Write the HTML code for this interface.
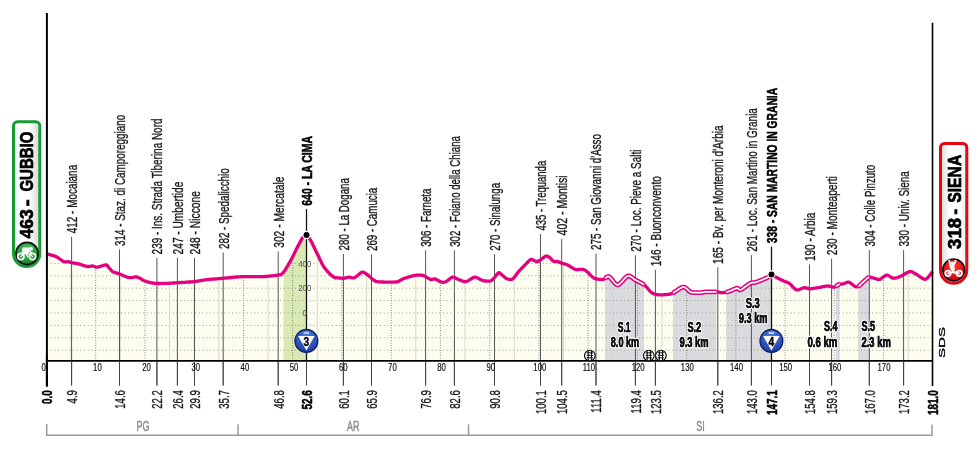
<!DOCTYPE html>
<html><head><meta charset="utf-8"><title>Stage profile Gubbio - Siena</title>
<style>
html,body{margin:0;padding:0;background:#fff;width:980px;height:451px;overflow:hidden}
svg{display:block}
text{font-family:'Liberation Sans', 'DejaVu Sans', sans-serif}
</style></head><body>
<svg width="980" height="451" viewBox="0 0 980 451">
<defs>
<clipPath id="area"><path d="M47.0,253.9 L47.3,254.0 L47.7,254.1 L48.2,254.2 L48.8,254.4 L49.4,254.5 L50.0,254.7 L50.7,254.9 L51.4,255.1 L52.2,255.3 L52.9,255.5 L53.6,255.7 L54.3,255.9 L54.9,256.2 L55.5,256.4 L56.0,256.6 L56.6,256.9 L57.2,257.2 L57.8,257.6 L58.5,258.1 L59.1,258.5 L59.8,259.0 L60.5,259.5 L61.1,259.9 L61.7,260.4 L62.3,260.8 L62.9,261.1 L63.4,261.4 L63.8,261.6 L64.4,261.8 L65.1,261.9 L65.7,261.9 L66.3,261.8 L66.9,261.7 L67.4,261.6 L67.9,261.6 L68.3,261.6 L68.8,261.7 L69.3,261.9 L69.8,262.1 L70.4,262.3 L70.9,262.5 L71.6,262.7 L72.0,262.8 L72.4,262.9 L72.9,262.9 L73.5,263.0 L74.1,263.1 L74.7,263.2 L75.3,263.3 L75.9,263.4 L76.5,263.5 L77.1,263.6 L77.7,263.7 L78.3,263.8 L78.8,263.9 L79.3,264.1 L79.9,264.2 L80.5,264.4 L81.1,264.6 L81.8,264.9 L82.4,265.1 L83.1,265.3 L83.8,265.5 L84.4,265.7 L85.0,265.9 L85.6,266.1 L86.2,266.2 L86.7,266.3 L87.1,266.4 L87.7,266.5 L88.3,266.5 L88.9,266.4 L89.5,266.4 L90.1,266.3 L90.7,266.2 L91.3,266.1 L91.8,266.0 L92.3,266.0 L92.7,266.0 L93.2,266.1 L93.7,266.3 L94.3,266.5 L94.8,266.7 L95.3,266.9 L95.9,267.1 L96.5,267.2 L97.1,267.2 L97.5,267.1 L98.0,267.0 L98.6,266.9 L99.2,266.7 L99.8,266.6 L100.4,266.4 L101.1,266.1 L101.8,265.9 L102.4,265.7 L103.0,265.5 L103.6,265.3 L104.1,265.2 L104.5,265.1 L104.9,265.0 L105.7,264.8 L106.1,264.8 L106.5,265.0 L107.1,265.5 L107.5,265.9 L107.9,266.4 L108.4,267.0 L109.0,267.7 L109.6,268.5 L110.2,269.2 L110.9,269.9 L111.5,270.6 L112.1,271.2 L112.6,271.6 L113.1,271.9 L113.6,272.1 L114.1,272.3 L114.7,272.5 L115.2,272.7 L115.8,272.8 L116.4,273.0 L117.0,273.1 L117.6,273.3 L118.2,273.4 L118.8,273.6 L119.3,273.8 L119.8,274.0 L120.4,274.2 L121.0,274.5 L121.6,274.8 L122.3,275.1 L122.9,275.4 L123.6,275.7 L124.3,276.0 L124.9,276.3 L125.5,276.5 L126.1,276.8 L126.6,276.9 L127.0,277.1 L127.6,277.3 L128.3,277.4 L128.9,277.5 L129.4,277.6 L130.0,277.7 L130.5,277.7 L131.0,277.7 L131.5,277.7 L132.0,277.6 L132.6,277.5 L133.1,277.4 L133.7,277.2 L134.3,277.0 L134.9,276.9 L135.4,276.8 L135.9,276.8 L136.4,276.9 L137.0,277.0 L137.6,277.2 L138.2,277.5 L138.8,277.8 L139.4,278.0 L140.0,278.3 L140.4,278.5 L140.9,278.8 L141.4,279.1 L141.8,279.4 L142.4,279.8 L142.9,280.1 L143.5,280.4 L144.1,280.7 L144.8,281.0 L145.2,281.1 L145.7,281.3 L146.2,281.4 L146.7,281.6 L147.3,281.8 L147.9,282.0 L148.5,282.1 L149.1,282.3 L149.8,282.5 L150.5,282.6 L151.1,282.8 L151.8,282.9 L152.5,283.0 L153.1,283.1 L153.8,283.2 L154.4,283.3 L154.8,283.3 L155.3,283.4 L155.8,283.4 L156.4,283.4 L156.9,283.4 L157.5,283.5 L158.1,283.5 L158.8,283.5 L159.4,283.5 L160.1,283.5 L160.7,283.5 L161.4,283.4 L162.0,283.4 L162.7,283.4 L163.3,283.4 L163.9,283.4 L164.5,283.4 L165.1,283.4 L165.7,283.4 L166.2,283.3 L166.8,283.3 L167.3,283.3 L167.7,283.3 L168.3,283.3 L168.9,283.3 L169.4,283.2 L170.0,283.2 L170.5,283.2 L171.1,283.1 L171.7,283.1 L172.2,283.1 L172.8,283.0 L173.4,283.0 L174.0,283.0 L174.6,282.9 L175.2,282.9 L175.8,282.8 L176.4,282.8 L177.0,282.7 L177.7,282.7 L178.1,282.7 L178.6,282.6 L179.1,282.6 L179.6,282.6 L180.1,282.6 L180.7,282.5 L181.3,282.5 L181.9,282.5 L182.6,282.4 L183.2,282.4 L183.9,282.3 L184.5,282.3 L185.2,282.3 L185.9,282.2 L186.6,282.2 L187.2,282.1 L187.9,282.1 L188.6,282.0 L189.2,282.0 L189.9,282.0 L190.5,281.9 L191.1,281.9 L191.7,281.8 L192.3,281.8 L192.8,281.7 L193.4,281.7 L193.8,281.6 L194.3,281.6 L194.9,281.5 L195.5,281.5 L196.0,281.4 L196.6,281.3 L197.2,281.2 L197.8,281.1 L198.4,281.0 L198.9,280.9 L199.5,280.8 L200.1,280.7 L200.7,280.6 L201.3,280.5 L201.9,280.4 L202.4,280.3 L203.0,280.2 L203.6,280.1 L204.2,280.0 L204.8,279.9 L205.3,279.8 L205.9,279.8 L206.5,279.7 L207.0,279.6 L207.4,279.6 L208.0,279.5 L208.5,279.5 L209.1,279.4 L209.6,279.4 L210.2,279.3 L210.9,279.3 L211.5,279.2 L212.2,279.2 L212.8,279.1 L213.5,279.1 L214.1,279.0 L214.8,279.0 L215.5,278.9 L216.2,278.9 L216.8,278.8 L217.5,278.8 L218.1,278.7 L218.8,278.7 L219.4,278.6 L220.0,278.6 L220.6,278.5 L221.1,278.5 L221.7,278.4 L222.2,278.4 L222.7,278.3 L223.1,278.3 L223.7,278.2 L224.3,278.2 L224.9,278.1 L225.6,278.1 L226.2,278.0 L226.8,277.9 L227.5,277.9 L228.1,277.8 L228.7,277.7 L229.3,277.7 L230.0,277.6 L230.6,277.5 L231.2,277.5 L231.8,277.4 L232.3,277.3 L232.9,277.3 L233.5,277.2 L234.0,277.2 L234.5,277.1 L235.0,277.1 L235.5,277.1 L236.0,277.0 L236.6,277.0 L237.1,277.0 L237.7,276.9 L238.2,276.9 L238.8,276.9 L239.4,276.8 L240.0,276.8 L240.5,276.8 L241.1,276.7 L241.7,276.7 L242.3,276.7 L242.9,276.7 L243.5,276.7 L244.2,276.6 L244.8,276.6 L245.4,276.6 L246.0,276.6 L246.4,276.6 L246.9,276.6 L247.4,276.6 L247.9,276.6 L248.5,276.6 L249.1,276.6 L249.6,276.6 L250.3,276.6 L250.9,276.6 L251.5,276.6 L252.2,276.6 L252.8,276.6 L253.5,276.6 L254.2,276.6 L254.8,276.7 L255.5,276.7 L256.2,276.7 L256.8,276.7 L257.5,276.7 L258.1,276.7 L258.8,276.7 L259.4,276.7 L260.0,276.7 L260.6,276.7 L261.2,276.6 L261.7,276.6 L262.2,276.6 L262.7,276.6 L263.2,276.6 L263.8,276.5 L264.4,276.5 L265.0,276.5 L265.6,276.4 L266.3,276.4 L266.9,276.3 L267.5,276.3 L268.2,276.2 L268.9,276.2 L269.5,276.1 L270.2,276.0 L270.8,276.0 L271.4,275.9 L272.1,275.8 L272.7,275.8 L273.3,275.7 L273.9,275.6 L274.4,275.6 L274.9,275.5 L275.4,275.4 L275.9,275.4 L276.3,275.3 L276.7,275.3 L277.1,275.2 L277.9,275.1 L278.6,275.0 L279.2,274.9 L279.8,274.9 L280.3,274.8 L280.7,274.6 L281.2,274.4 L281.7,274.1 L282.2,273.7 L282.7,273.2 L283.2,272.7 L283.7,272.0 L284.3,271.2 L284.9,270.3 L285.5,269.3 L286.2,268.2 L286.8,267.2 L287.5,266.1 L288.1,265.0 L288.8,263.9 L289.3,262.9 L289.9,261.9 L290.4,261.0 L290.9,260.0 L291.5,259.0 L292.1,257.9 L292.7,256.7 L293.3,255.5 L293.9,254.2 L294.5,253.0 L295.0,251.8 L295.6,250.7 L296.1,249.6 L296.6,248.6 L297.1,247.7 L297.6,246.7 L298.2,245.6 L298.8,244.5 L299.4,243.3 L300.0,242.2 L300.6,241.1 L301.2,240.1 L301.7,239.2 L302.2,238.4 L302.6,237.8 L303.2,237.1 L303.9,236.5 L304.5,236.1 L305.2,235.7 L305.7,235.4 L306.2,235.2 L306.5,235.0 L306.8,235.4 L307.3,235.8 L307.8,236.4 L308.4,237.2 L309.1,238.0 L309.7,238.9 L310.4,240.0 L310.8,240.7 L311.3,241.6 L311.8,242.6 L312.4,243.8 L312.9,245.0 L313.6,246.2 L314.2,247.5 L314.8,248.8 L315.4,250.0 L316.0,251.2 L316.5,252.3 L317.0,253.3 L317.5,254.3 L318.0,255.4 L318.6,256.5 L319.2,257.8 L319.7,259.0 L320.3,260.2 L321.0,261.5 L321.5,262.7 L322.1,263.8 L322.7,264.8 L323.2,265.8 L323.7,266.6 L324.2,267.3 L324.7,268.1 L325.3,268.8 L325.9,269.6 L326.5,270.3 L327.1,271.0 L327.7,271.6 L328.3,272.3 L328.9,272.9 L329.4,273.4 L329.9,273.9 L330.3,274.3 L330.9,274.9 L331.5,275.4 L332.2,275.9 L332.8,276.4 L333.4,276.8 L333.9,277.2 L334.4,277.5 L334.8,277.7 L335.3,277.9 L335.6,277.8 L336.0,277.7 L336.7,277.7 L337.1,277.7 L337.5,277.8 L338.0,277.8 L338.6,277.9 L339.2,278.0 L339.8,278.1 L340.5,278.1 L341.1,278.2 L341.7,278.2 L342.3,278.3 L342.8,278.3 L343.3,278.3 L343.8,278.3 L344.4,278.2 L344.9,278.0 L345.5,277.9 L346.1,277.8 L346.7,277.6 L347.2,277.5 L347.8,277.3 L348.3,277.2 L348.8,277.2 L349.3,277.2 L349.8,277.3 L350.3,277.4 L350.9,277.5 L351.5,277.7 L352.1,277.8 L352.7,277.9 L353.2,277.9 L353.8,277.9 L354.4,277.7 L354.8,277.5 L355.3,277.2 L355.9,276.8 L356.4,276.4 L357.1,275.9 L357.7,275.4 L358.3,274.8 L358.9,274.3 L359.6,273.8 L360.2,273.3 L360.7,272.9 L361.3,272.6 L361.8,272.3 L362.2,272.2 L362.8,272.2 L363.3,272.2 L363.9,272.4 L364.5,272.7 L365.0,273.0 L365.6,273.4 L366.1,273.8 L366.7,274.2 L367.2,274.6 L367.7,275.0 L368.2,275.3 L368.7,275.7 L369.2,276.2 L369.8,276.7 L370.4,277.3 L371.0,277.8 L371.6,278.4 L372.2,278.9 L372.8,279.4 L373.3,279.8 L373.8,280.2 L374.3,280.5 L374.8,280.8 L375.2,281.0 L375.7,281.2 L376.1,281.4 L376.6,281.5 L377.1,281.6 L377.6,281.7 L378.3,281.8 L379.0,281.8 L379.9,281.9 L380.3,281.9 L380.7,281.9 L381.1,282.0 L381.6,282.0 L382.2,282.0 L382.8,282.0 L383.4,282.0 L384.0,282.1 L384.6,282.1 L385.3,282.1 L386.0,282.1 L386.7,282.1 L387.4,282.1 L388.1,282.1 L388.9,282.1 L389.6,282.1 L390.3,282.1 L391.0,282.1 L391.7,282.1 L392.3,282.1 L393.0,282.1 L393.6,282.1 L394.2,282.1 L394.7,282.0 L395.2,282.0 L395.7,282.0 L396.1,281.9 L396.5,281.9 L397.3,281.8 L398.0,281.6 L398.6,281.4 L399.1,281.1 L399.7,280.8 L400.1,280.5 L400.6,280.2 L401.1,279.9 L401.6,279.6 L402.1,279.3 L402.6,279.0 L403.2,278.8 L403.6,278.6 L404.1,278.5 L404.6,278.3 L405.2,278.1 L405.8,277.9 L406.4,277.7 L407.0,277.5 L407.6,277.3 L408.3,277.1 L409.0,276.9 L409.6,276.7 L410.3,276.5 L410.9,276.3 L411.6,276.1 L412.2,276.0 L412.8,275.8 L413.3,275.7 L413.8,275.6 L414.3,275.5 L414.9,275.4 L415.5,275.3 L416.1,275.3 L416.7,275.2 L417.3,275.2 L418.0,275.1 L418.6,275.1 L419.2,275.1 L419.8,275.1 L420.4,275.2 L421.0,275.2 L421.6,275.2 L422.1,275.3 L422.6,275.4 L423.1,275.5 L423.6,275.7 L424.2,275.9 L424.8,276.2 L425.5,276.5 L426.1,276.9 L426.7,277.3 L427.3,277.7 L427.9,278.0 L428.5,278.4 L429.1,278.7 L429.6,279.0 L430.1,279.2 L430.5,279.4 L431.1,279.5 L431.7,279.5 L432.3,279.4 L432.8,279.2 L433.3,279.1 L433.9,279.0 L434.4,278.9 L435.0,279.0 L435.4,279.1 L435.9,279.3 L436.5,279.6 L437.1,279.9 L437.7,280.2 L438.3,280.6 L438.9,280.9 L439.5,281.2 L440.1,281.5 L440.7,281.8 L441.2,282.0 L441.6,282.1 L442.2,282.2 L442.7,282.3 L443.3,282.3 L443.8,282.3 L444.3,282.2 L444.9,282.0 L445.4,281.8 L446.0,281.6 L446.4,281.4 L446.9,281.0 L447.5,280.6 L448.0,280.2 L448.7,279.7 L449.3,279.2 L449.9,278.7 L450.5,278.2 L451.1,277.8 L451.7,277.5 L452.2,277.2 L452.7,277.1 L453.2,277.1 L453.8,277.2 L454.3,277.3 L454.9,277.6 L455.4,277.9 L456.0,278.2 L456.6,278.6 L457.2,278.9 L457.7,279.2 L458.3,279.4 L458.8,279.6 L459.3,279.8 L459.8,280.0 L460.4,280.2 L461.0,280.5 L461.7,280.7 L462.3,281.0 L462.9,281.2 L463.6,281.4 L464.2,281.5 L464.8,281.6 L465.4,281.6 L466.0,281.6 L466.5,281.5 L467.0,281.3 L467.6,281.0 L468.2,280.7 L468.8,280.3 L469.5,279.9 L470.1,279.5 L470.8,279.1 L471.4,278.7 L472.1,278.3 L472.7,277.9 L473.3,277.6 L473.9,277.4 L474.4,277.2 L474.9,277.1 L475.5,277.1 L476.0,277.2 L476.6,277.4 L477.2,277.7 L477.9,278.0 L478.5,278.4 L479.1,278.7 L479.7,279.1 L480.4,279.5 L480.9,279.8 L481.5,280.1 L482.1,280.3 L482.6,280.5 L483.1,280.6 L483.7,280.7 L484.3,280.9 L485.0,281.0 L485.7,281.0 L486.3,281.1 L487.0,281.2 L487.7,281.2 L488.3,281.2 L488.9,281.2 L489.5,281.2 L490.0,281.1 L490.4,281.0 L491.0,280.7 L491.7,280.4 L492.2,279.9 L492.8,279.3 L493.3,278.7 L493.9,278.1 L494.3,277.6 L494.8,277.1 L495.3,276.5 L495.9,275.8 L496.5,274.9 L497.1,274.2 L497.6,273.5 L498.2,273.0 L498.7,272.7 L499.2,272.7 L499.8,273.0 L500.3,273.4 L500.9,274.0 L501.5,274.5 L502.1,275.1 L502.6,275.5 L503.1,275.9 L503.6,276.3 L504.1,276.8 L504.7,277.3 L505.3,277.8 L505.9,278.2 L506.5,278.6 L507.0,278.8 L507.5,279.0 L508.0,279.1 L508.5,279.2 L509.1,279.4 L509.7,279.4 L510.4,279.5 L511.0,279.5 L511.5,279.4 L512.1,279.2 L512.6,279.0 L513.1,278.6 L513.6,278.1 L514.1,277.5 L514.7,276.8 L515.3,276.0 L515.8,275.2 L516.4,274.4 L517.0,273.6 L517.5,272.9 L518.1,272.2 L518.6,271.7 L519.1,271.1 L519.6,270.5 L520.2,269.9 L520.8,269.2 L521.5,268.5 L522.1,267.9 L522.8,267.2 L523.4,266.6 L524.0,265.9 L524.5,265.4 L525.0,264.9 L525.5,264.4 L526.1,263.8 L526.6,263.2 L527.2,262.6 L527.8,262.0 L528.4,261.4 L529.0,260.8 L529.5,260.3 L530.1,259.9 L530.6,259.6 L531.1,259.4 L531.6,259.4 L532.1,259.5 L532.7,259.7 L533.3,260.0 L533.9,260.4 L534.5,260.7 L535.1,261.0 L535.6,261.3 L536.1,261.5 L536.6,261.6 L537.1,261.5 L537.7,261.4 L538.3,261.1 L538.9,260.8 L539.5,260.4 L540.0,260.1 L540.6,259.7 L541.1,259.4 L541.6,259.1 L542.1,258.7 L542.7,258.3 L543.3,257.8 L543.9,257.3 L544.5,256.9 L545.0,256.5 L545.5,256.3 L546.0,256.1 L546.6,256.1 L547.1,256.2 L547.7,256.4 L548.3,256.7 L548.9,257.0 L549.4,257.4 L549.9,257.7 L550.4,258.2 L551.0,258.8 L551.6,259.5 L552.2,260.1 L552.7,260.7 L553.3,261.1 L553.8,261.3 L554.3,261.4 L554.8,261.4 L555.4,261.4 L556.1,261.5 L556.6,261.5 L557.2,261.5 L557.7,261.6 L558.2,261.7 L558.7,261.9 L559.3,262.1 L559.8,262.4 L560.4,262.6 L561.0,262.9 L561.6,263.1 L562.1,263.3 L562.6,263.4 L563.0,263.6 L563.6,263.7 L564.1,263.9 L564.7,264.0 L565.3,264.2 L565.9,264.3 L566.5,264.5 L567.1,264.8 L567.7,265.0 L568.2,265.2 L568.7,265.5 L569.2,265.9 L569.8,266.3 L570.5,266.7 L571.1,267.1 L571.8,267.5 L572.4,267.9 L573.1,268.3 L573.7,268.7 L574.3,269.0 L574.9,269.2 L575.4,269.4 L575.9,269.5 L576.4,269.6 L577.0,269.6 L577.6,269.6 L578.2,269.6 L578.8,269.5 L579.5,269.5 L580.1,269.4 L580.7,269.4 L581.3,269.3 L581.8,269.3 L582.3,269.3 L582.8,269.3 L583.2,269.4 L583.8,269.6 L584.4,269.8 L584.9,270.1 L585.5,270.5 L586.0,270.9 L586.5,271.3 L587.0,271.7 L587.6,272.2 L588.0,272.6 L588.5,273.0 L589.0,273.5 L589.5,274.1 L590.1,274.7 L590.7,275.3 L591.3,275.9 L591.9,276.5 L592.5,277.0 L593.2,277.5 L593.7,277.9 L594.3,278.2 L594.8,278.4 L595.3,278.6 L595.9,278.7 L596.5,278.9 L597.1,279.0 L597.8,279.1 L598.4,279.2 L599.1,279.3 L599.7,279.4 L600.4,279.4 L601.0,279.4 L601.6,279.5 L602.2,279.5 L602.7,279.4 L603.1,279.4 L603.7,279.2 L604.3,278.9 L604.9,278.5 L605.4,278.1 L606.0,277.6 L606.6,277.2 L607.1,276.8 L607.7,276.6 L608.3,276.5 L608.9,276.6 L609.3,276.8 L609.8,277.2 L610.4,277.8 L610.9,278.4 L611.5,279.1 L612.1,279.9 L612.8,280.7 L613.4,281.5 L614.0,282.2 L614.7,283.0 L615.3,283.6 L616.0,284.1 L616.6,284.6 L617.1,284.8 L617.7,284.9 L618.2,284.8 L618.7,284.6 L619.3,284.2 L619.9,283.7 L620.5,283.1 L621.1,282.5 L621.8,281.8 L622.4,281.1 L623.1,280.3 L623.7,279.6 L624.4,278.8 L625.0,278.1 L625.6,277.5 L626.2,277.0 L626.7,276.5 L627.2,276.2 L627.7,276.0 L628.3,275.9 L628.9,275.9 L629.5,276.1 L630.1,276.3 L630.7,276.7 L631.4,277.1 L632.0,277.5 L632.6,277.9 L633.2,278.4 L633.8,278.9 L634.4,279.3 L634.9,279.7 L635.5,280.0 L636.0,280.3 L636.5,280.5 L637.1,280.8 L637.7,281.1 L638.3,281.4 L639.0,281.8 L639.6,282.1 L640.3,282.5 L640.9,282.8 L641.6,283.1 L642.2,283.5 L642.8,283.9 L643.3,284.2 L643.8,284.6 L644.3,284.9 L644.9,285.4 L645.4,285.9 L646.0,286.6 L646.6,287.2 L647.2,287.9 L647.8,288.6 L648.3,289.3 L648.9,290.0 L649.5,290.6 L650.0,291.2 L650.5,291.7 L651.0,292.1 L651.5,292.4 L651.9,292.8 L652.4,293.1 L652.9,293.3 L653.4,293.6 L653.9,293.8 L654.5,294.0 L655.0,294.2 L655.6,294.4 L656.3,294.5 L656.9,294.6 L657.6,294.7 L658.0,294.7 L658.4,294.8 L658.9,294.8 L659.4,294.8 L660.0,294.8 L660.5,294.8 L661.1,294.8 L661.7,294.8 L662.4,294.8 L663.0,294.8 L663.7,294.8 L664.3,294.7 L665.0,294.7 L665.7,294.6 L666.3,294.6 L667.0,294.5 L667.6,294.4 L668.2,294.4 L668.9,294.3 L669.4,294.2 L670.0,294.1 L670.5,293.9 L671.0,293.8 L671.5,293.6 L672.1,293.4 L672.7,293.1 L673.3,292.8 L673.9,292.4 L674.5,292.0 L675.1,291.6 L675.8,291.2 L676.4,290.8 L677.0,290.4 L677.7,289.9 L678.3,289.5 L678.9,289.1 L679.5,288.7 L680.1,288.3 L680.7,288.0 L681.2,287.7 L681.7,287.5 L682.2,287.3 L682.7,287.2 L683.1,287.1 L683.7,287.1 L684.4,287.3 L685.0,287.6 L685.6,288.0 L686.3,288.4 L686.9,288.9 L687.5,289.5 L688.1,290.0 L688.6,290.6 L689.2,291.1 L689.8,291.5 L690.3,291.9 L690.9,292.1 L691.4,292.2 L691.9,292.4 L692.5,292.5 L693.1,292.6 L693.8,292.6 L694.4,292.7 L695.1,292.7 L695.8,292.7 L696.4,292.7 L697.1,292.7 L697.7,292.7 L698.3,292.7 L698.8,292.7 L699.3,292.7 L699.8,292.7 L700.4,292.7 L700.9,292.6 L701.5,292.6 L702.0,292.5 L702.5,292.4 L703.0,292.3 L703.6,292.2 L704.1,292.1 L704.7,292.0 L705.3,291.9 L706.0,291.9 L706.4,291.9 L706.9,291.9 L707.4,291.9 L708.0,291.8 L708.6,291.8 L709.3,291.8 L710.0,291.8 L710.6,291.8 L711.3,291.8 L712.0,291.8 L712.7,291.8 L713.4,291.8 L714.1,291.8 L714.7,291.8 L715.3,291.8 L715.9,291.9 L716.4,291.9 L716.8,291.9 L717.2,291.9 L718.0,292.0 L718.6,292.1 L719.1,292.2 L719.6,292.4 L720.1,292.5 L720.6,292.6 L721.1,292.7 L721.6,292.7 L722.0,292.7 L722.5,292.6 L723.0,292.6 L723.5,292.5 L724.1,292.5 L724.7,292.4 L725.3,292.3 L725.9,292.2 L726.5,292.0 L727.2,291.9 L727.7,291.8 L728.3,291.6 L728.8,291.4 L729.3,291.3 L729.9,291.0 L730.5,290.8 L731.2,290.5 L731.8,290.2 L732.5,289.9 L733.2,289.6 L733.9,289.3 L734.5,289.0 L735.2,288.8 L735.7,288.6 L736.3,288.4 L736.7,288.3 L737.1,288.2 L737.8,288.3 L738.3,288.7 L738.7,289.2 L739.2,289.7 L739.7,290.0 L740.5,289.9 L740.9,289.7 L741.3,289.5 L741.8,289.2 L742.4,288.8 L743.0,288.4 L743.6,288.0 L744.3,287.5 L745.0,287.0 L745.7,286.5 L746.4,286.0 L747.1,285.5 L747.7,285.0 L748.3,284.6 L748.9,284.2 L749.5,283.8 L750.0,283.5 L750.4,283.3 L751.0,283.0 L751.6,282.8 L752.1,282.7 L752.6,282.7 L753.1,282.6 L753.6,282.6 L754.2,282.6 L754.7,282.5 L755.3,282.4 L756.0,282.2 L756.4,282.1 L756.9,281.9 L757.4,281.7 L758.0,281.5 L758.6,281.3 L759.2,281.0 L759.9,280.8 L760.6,280.5 L761.3,280.2 L762.0,279.9 L762.7,279.6 L763.3,279.4 L764.0,279.1 L764.6,278.8 L765.2,278.6 L765.8,278.3 L766.3,278.1 L766.7,277.9 L767.1,277.7 L767.9,277.3 L768.6,276.8 L769.3,276.3 L769.9,275.8 L770.4,275.4 L770.9,275.0 L771.2,274.6 L771.5,274.4 L771.8,274.6 L772.2,274.8 L772.7,275.1 L773.3,275.5 L773.9,275.9 L774.5,276.3 L775.2,276.7 L775.8,277.0 L776.4,277.4 L777.0,277.7 L777.5,277.9 L778.0,278.2 L778.5,278.5 L779.1,278.8 L779.7,279.1 L780.4,279.4 L781.0,279.7 L781.6,280.0 L782.2,280.3 L782.7,280.5 L783.2,280.8 L783.7,281.0 L784.2,281.2 L784.8,281.4 L785.4,281.6 L785.9,281.8 L786.5,282.0 L787.1,282.2 L787.6,282.5 L788.2,282.7 L788.7,283.0 L789.2,283.3 L789.7,283.7 L790.3,284.2 L790.9,284.8 L791.5,285.4 L792.1,286.1 L792.8,286.8 L793.4,287.4 L793.9,288.0 L794.4,288.4 L794.8,288.8 L795.4,289.3 L796.0,289.6 L796.5,289.8 L797.1,289.9 L797.8,289.9 L798.2,289.8 L798.6,289.7 L799.2,289.5 L799.7,289.3 L800.3,289.1 L801.0,288.8 L801.6,288.5 L802.2,288.3 L802.8,288.1 L803.4,287.9 L803.9,287.8 L804.4,287.7 L804.9,287.7 L805.5,287.8 L806.0,287.9 L806.6,288.0 L807.1,288.2 L807.7,288.4 L808.3,288.5 L808.9,288.7 L809.4,288.8 L810.0,288.8 L810.5,288.8 L811.0,288.8 L811.5,288.7 L812.1,288.6 L812.7,288.5 L813.3,288.4 L813.9,288.3 L814.6,288.2 L815.2,288.1 L815.9,288.0 L816.5,287.9 L817.1,287.8 L817.7,287.7 L818.2,287.6 L818.7,287.5 L819.2,287.4 L819.8,287.3 L820.5,287.2 L821.1,287.1 L821.8,286.9 L822.4,286.8 L823.1,286.7 L823.8,286.5 L824.4,286.4 L825.0,286.3 L825.6,286.2 L826.2,286.1 L826.8,286.1 L827.3,286.0 L827.7,286.0 L828.3,286.0 L829.0,286.1 L829.7,286.2 L830.3,286.4 L831.0,286.6 L831.6,286.7 L832.2,286.9 L832.8,287.1 L833.3,287.2 L833.8,287.2 L834.3,287.2 L834.9,287.0 L835.5,286.7 L836.1,286.3 L836.7,285.9 L837.2,285.4 L837.8,285.0 L838.3,284.6 L838.8,284.4 L839.3,284.2 L839.8,284.1 L840.4,284.1 L840.9,284.0 L841.5,284.0 L842.1,284.0 L842.7,283.9 L843.2,283.8 L843.7,283.7 L844.2,283.5 L844.7,283.2 L845.3,283.0 L845.9,282.7 L846.5,282.5 L847.1,282.3 L847.7,282.2 L848.3,282.1 L848.8,282.2 L849.3,282.4 L849.8,282.6 L850.4,283.0 L851.0,283.4 L851.6,283.9 L852.2,284.3 L852.8,284.8 L853.4,285.3 L854.0,285.7 L854.5,286.1 L855.0,286.4 L855.4,286.6 L856.0,286.8 L856.6,286.9 L857.0,286.9 L857.5,286.7 L858.1,286.4 L858.7,286.0 L859.1,285.7 L859.6,285.3 L860.1,284.8 L860.7,284.3 L861.4,283.7 L862.0,283.1 L862.7,282.5 L863.3,281.9 L863.9,281.3 L864.5,280.8 L865.0,280.4 L865.4,280.0 L866.0,279.5 L866.6,278.9 L867.2,278.5 L867.7,278.0 L868.2,277.6 L868.8,277.4 L869.3,277.2 L869.8,277.2 L870.3,277.2 L870.8,277.3 L871.4,277.5 L872.0,277.6 L872.6,277.8 L873.2,278.0 L873.8,278.2 L874.3,278.3 L874.8,278.4 L875.3,278.6 L875.8,278.8 L876.4,279.0 L877.0,279.1 L877.5,279.3 L878.1,279.4 L878.7,279.5 L879.3,279.5 L879.8,279.4 L880.3,279.2 L880.8,278.9 L881.3,278.6 L881.9,278.1 L882.5,277.6 L883.1,277.1 L883.8,276.7 L884.4,276.2 L885.0,275.8 L885.6,275.4 L886.1,275.2 L886.6,275.1 L887.1,275.1 L887.6,275.3 L888.2,275.5 L888.7,275.8 L889.3,276.1 L889.9,276.5 L890.5,276.9 L891.1,277.3 L891.6,277.6 L892.2,277.9 L892.7,278.1 L893.2,278.2 L893.7,278.2 L894.2,278.2 L894.7,278.2 L895.2,278.1 L895.8,278.0 L896.4,277.8 L896.9,277.7 L897.5,277.5 L898.1,277.3 L898.7,277.1 L899.3,276.8 L899.9,276.6 L900.3,276.4 L900.8,276.2 L901.4,275.9 L902.0,275.6 L902.6,275.2 L903.2,274.8 L903.9,274.4 L904.6,274.1 L905.2,273.7 L905.9,273.3 L906.6,272.9 L907.2,272.6 L907.8,272.3 L908.4,272.1 L909.0,271.8 L909.5,271.7 L909.9,271.6 L910.5,271.6 L911.1,271.6 L911.6,271.8 L912.2,271.9 L912.7,272.2 L913.3,272.5 L913.8,272.8 L914.3,273.1 L914.9,273.5 L915.4,273.8 L916.0,274.1 L916.5,274.4 L917.0,274.7 L917.5,275.0 L918.1,275.4 L918.7,275.8 L919.3,276.2 L919.9,276.7 L920.6,277.2 L921.3,277.6 L921.9,278.1 L922.6,278.4 L923.2,278.8 L923.8,279.0 L924.4,279.2 L924.9,279.3 L925.4,279.3 L926.0,279.1 L926.6,278.7 L927.3,278.1 L928.0,277.4 L928.7,276.6 L929.4,275.7 L930.1,274.8 L930.7,274.0 L931.3,273.2 L931.8,272.5 L932.2,272.0 L932.5,271.6 L932.5,360.8 L47,360.8 Z"/></clipPath>
<linearGradient id="gpill" x1="0" x2="1" y1="0" y2="0"><stop offset="0" stop-color="#ececf0"/><stop offset="0.2" stop-color="#fff"/><stop offset="0.6" stop-color="#fff"/><stop offset="1" stop-color="#d4d4da"/></linearGradient>
<linearGradient id="rpill" x1="0" x2="1" y1="0" y2="0"><stop offset="0" stop-color="#d4d8dc"/><stop offset="0.35" stop-color="#fff"/><stop offset="0.75" stop-color="#fff"/><stop offset="1" stop-color="#ececec"/></linearGradient>
<radialGradient id="kom" cx="0.5" cy="0.3" r="0.7"><stop offset="0" stop-color="#4a7fe0"/><stop offset="1" stop-color="#1c3aa0"/></radialGradient>
<radialGradient id="gcirc" cx="0.5" cy="0.3" r="0.7"><stop offset="0" stop-color="#4cc060"/><stop offset="1" stop-color="#17802a"/></radialGradient>
<radialGradient id="rcirc" cx="0.5" cy="0.3" r="0.7"><stop offset="0" stop-color="#ff3a2a"/><stop offset="1" stop-color="#d00010"/></radialGradient>
</defs>
<rect width="980" height="451" fill="#fff"/>

<path d="M47.0,253.9 L47.3,254.0 L47.7,254.1 L48.2,254.2 L48.8,254.4 L49.4,254.5 L50.0,254.7 L50.7,254.9 L51.4,255.1 L52.2,255.3 L52.9,255.5 L53.6,255.7 L54.3,255.9 L54.9,256.2 L55.5,256.4 L56.0,256.6 L56.6,256.9 L57.2,257.2 L57.8,257.6 L58.5,258.1 L59.1,258.5 L59.8,259.0 L60.5,259.5 L61.1,259.9 L61.7,260.4 L62.3,260.8 L62.9,261.1 L63.4,261.4 L63.8,261.6 L64.4,261.8 L65.1,261.9 L65.7,261.9 L66.3,261.8 L66.9,261.7 L67.4,261.6 L67.9,261.6 L68.3,261.6 L68.8,261.7 L69.3,261.9 L69.8,262.1 L70.4,262.3 L70.9,262.5 L71.6,262.7 L72.0,262.8 L72.4,262.9 L72.9,262.9 L73.5,263.0 L74.1,263.1 L74.7,263.2 L75.3,263.3 L75.9,263.4 L76.5,263.5 L77.1,263.6 L77.7,263.7 L78.3,263.8 L78.8,263.9 L79.3,264.1 L79.9,264.2 L80.5,264.4 L81.1,264.6 L81.8,264.9 L82.4,265.1 L83.1,265.3 L83.8,265.5 L84.4,265.7 L85.0,265.9 L85.6,266.1 L86.2,266.2 L86.7,266.3 L87.1,266.4 L87.7,266.5 L88.3,266.5 L88.9,266.4 L89.5,266.4 L90.1,266.3 L90.7,266.2 L91.3,266.1 L91.8,266.0 L92.3,266.0 L92.7,266.0 L93.2,266.1 L93.7,266.3 L94.3,266.5 L94.8,266.7 L95.3,266.9 L95.9,267.1 L96.5,267.2 L97.1,267.2 L97.5,267.1 L98.0,267.0 L98.6,266.9 L99.2,266.7 L99.8,266.6 L100.4,266.4 L101.1,266.1 L101.8,265.9 L102.4,265.7 L103.0,265.5 L103.6,265.3 L104.1,265.2 L104.5,265.1 L104.9,265.0 L105.7,264.8 L106.1,264.8 L106.5,265.0 L107.1,265.5 L107.5,265.9 L107.9,266.4 L108.4,267.0 L109.0,267.7 L109.6,268.5 L110.2,269.2 L110.9,269.9 L111.5,270.6 L112.1,271.2 L112.6,271.6 L113.1,271.9 L113.6,272.1 L114.1,272.3 L114.7,272.5 L115.2,272.7 L115.8,272.8 L116.4,273.0 L117.0,273.1 L117.6,273.3 L118.2,273.4 L118.8,273.6 L119.3,273.8 L119.8,274.0 L120.4,274.2 L121.0,274.5 L121.6,274.8 L122.3,275.1 L122.9,275.4 L123.6,275.7 L124.3,276.0 L124.9,276.3 L125.5,276.5 L126.1,276.8 L126.6,276.9 L127.0,277.1 L127.6,277.3 L128.3,277.4 L128.9,277.5 L129.4,277.6 L130.0,277.7 L130.5,277.7 L131.0,277.7 L131.5,277.7 L132.0,277.6 L132.6,277.5 L133.1,277.4 L133.7,277.2 L134.3,277.0 L134.9,276.9 L135.4,276.8 L135.9,276.8 L136.4,276.9 L137.0,277.0 L137.6,277.2 L138.2,277.5 L138.8,277.8 L139.4,278.0 L140.0,278.3 L140.4,278.5 L140.9,278.8 L141.4,279.1 L141.8,279.4 L142.4,279.8 L142.9,280.1 L143.5,280.4 L144.1,280.7 L144.8,281.0 L145.2,281.1 L145.7,281.3 L146.2,281.4 L146.7,281.6 L147.3,281.8 L147.9,282.0 L148.5,282.1 L149.1,282.3 L149.8,282.5 L150.5,282.6 L151.1,282.8 L151.8,282.9 L152.5,283.0 L153.1,283.1 L153.8,283.2 L154.4,283.3 L154.8,283.3 L155.3,283.4 L155.8,283.4 L156.4,283.4 L156.9,283.4 L157.5,283.5 L158.1,283.5 L158.8,283.5 L159.4,283.5 L160.1,283.5 L160.7,283.5 L161.4,283.4 L162.0,283.4 L162.7,283.4 L163.3,283.4 L163.9,283.4 L164.5,283.4 L165.1,283.4 L165.7,283.4 L166.2,283.3 L166.8,283.3 L167.3,283.3 L167.7,283.3 L168.3,283.3 L168.9,283.3 L169.4,283.2 L170.0,283.2 L170.5,283.2 L171.1,283.1 L171.7,283.1 L172.2,283.1 L172.8,283.0 L173.4,283.0 L174.0,283.0 L174.6,282.9 L175.2,282.9 L175.8,282.8 L176.4,282.8 L177.0,282.7 L177.7,282.7 L178.1,282.7 L178.6,282.6 L179.1,282.6 L179.6,282.6 L180.1,282.6 L180.7,282.5 L181.3,282.5 L181.9,282.5 L182.6,282.4 L183.2,282.4 L183.9,282.3 L184.5,282.3 L185.2,282.3 L185.9,282.2 L186.6,282.2 L187.2,282.1 L187.9,282.1 L188.6,282.0 L189.2,282.0 L189.9,282.0 L190.5,281.9 L191.1,281.9 L191.7,281.8 L192.3,281.8 L192.8,281.7 L193.4,281.7 L193.8,281.6 L194.3,281.6 L194.9,281.5 L195.5,281.5 L196.0,281.4 L196.6,281.3 L197.2,281.2 L197.8,281.1 L198.4,281.0 L198.9,280.9 L199.5,280.8 L200.1,280.7 L200.7,280.6 L201.3,280.5 L201.9,280.4 L202.4,280.3 L203.0,280.2 L203.6,280.1 L204.2,280.0 L204.8,279.9 L205.3,279.8 L205.9,279.8 L206.5,279.7 L207.0,279.6 L207.4,279.6 L208.0,279.5 L208.5,279.5 L209.1,279.4 L209.6,279.4 L210.2,279.3 L210.9,279.3 L211.5,279.2 L212.2,279.2 L212.8,279.1 L213.5,279.1 L214.1,279.0 L214.8,279.0 L215.5,278.9 L216.2,278.9 L216.8,278.8 L217.5,278.8 L218.1,278.7 L218.8,278.7 L219.4,278.6 L220.0,278.6 L220.6,278.5 L221.1,278.5 L221.7,278.4 L222.2,278.4 L222.7,278.3 L223.1,278.3 L223.7,278.2 L224.3,278.2 L224.9,278.1 L225.6,278.1 L226.2,278.0 L226.8,277.9 L227.5,277.9 L228.1,277.8 L228.7,277.7 L229.3,277.7 L230.0,277.6 L230.6,277.5 L231.2,277.5 L231.8,277.4 L232.3,277.3 L232.9,277.3 L233.5,277.2 L234.0,277.2 L234.5,277.1 L235.0,277.1 L235.5,277.1 L236.0,277.0 L236.6,277.0 L237.1,277.0 L237.7,276.9 L238.2,276.9 L238.8,276.9 L239.4,276.8 L240.0,276.8 L240.5,276.8 L241.1,276.7 L241.7,276.7 L242.3,276.7 L242.9,276.7 L243.5,276.7 L244.2,276.6 L244.8,276.6 L245.4,276.6 L246.0,276.6 L246.4,276.6 L246.9,276.6 L247.4,276.6 L247.9,276.6 L248.5,276.6 L249.1,276.6 L249.6,276.6 L250.3,276.6 L250.9,276.6 L251.5,276.6 L252.2,276.6 L252.8,276.6 L253.5,276.6 L254.2,276.6 L254.8,276.7 L255.5,276.7 L256.2,276.7 L256.8,276.7 L257.5,276.7 L258.1,276.7 L258.8,276.7 L259.4,276.7 L260.0,276.7 L260.6,276.7 L261.2,276.6 L261.7,276.6 L262.2,276.6 L262.7,276.6 L263.2,276.6 L263.8,276.5 L264.4,276.5 L265.0,276.5 L265.6,276.4 L266.3,276.4 L266.9,276.3 L267.5,276.3 L268.2,276.2 L268.9,276.2 L269.5,276.1 L270.2,276.0 L270.8,276.0 L271.4,275.9 L272.1,275.8 L272.7,275.8 L273.3,275.7 L273.9,275.6 L274.4,275.6 L274.9,275.5 L275.4,275.4 L275.9,275.4 L276.3,275.3 L276.7,275.3 L277.1,275.2 L277.9,275.1 L278.6,275.0 L279.2,274.9 L279.8,274.9 L280.3,274.8 L280.7,274.6 L281.2,274.4 L281.7,274.1 L282.2,273.7 L282.7,273.2 L283.2,272.7 L283.7,272.0 L284.3,271.2 L284.9,270.3 L285.5,269.3 L286.2,268.2 L286.8,267.2 L287.5,266.1 L288.1,265.0 L288.8,263.9 L289.3,262.9 L289.9,261.9 L290.4,261.0 L290.9,260.0 L291.5,259.0 L292.1,257.9 L292.7,256.7 L293.3,255.5 L293.9,254.2 L294.5,253.0 L295.0,251.8 L295.6,250.7 L296.1,249.6 L296.6,248.6 L297.1,247.7 L297.6,246.7 L298.2,245.6 L298.8,244.5 L299.4,243.3 L300.0,242.2 L300.6,241.1 L301.2,240.1 L301.7,239.2 L302.2,238.4 L302.6,237.8 L303.2,237.1 L303.9,236.5 L304.5,236.1 L305.2,235.7 L305.7,235.4 L306.2,235.2 L306.5,235.0 L306.8,235.4 L307.3,235.8 L307.8,236.4 L308.4,237.2 L309.1,238.0 L309.7,238.9 L310.4,240.0 L310.8,240.7 L311.3,241.6 L311.8,242.6 L312.4,243.8 L312.9,245.0 L313.6,246.2 L314.2,247.5 L314.8,248.8 L315.4,250.0 L316.0,251.2 L316.5,252.3 L317.0,253.3 L317.5,254.3 L318.0,255.4 L318.6,256.5 L319.2,257.8 L319.7,259.0 L320.3,260.2 L321.0,261.5 L321.5,262.7 L322.1,263.8 L322.7,264.8 L323.2,265.8 L323.7,266.6 L324.2,267.3 L324.7,268.1 L325.3,268.8 L325.9,269.6 L326.5,270.3 L327.1,271.0 L327.7,271.6 L328.3,272.3 L328.9,272.9 L329.4,273.4 L329.9,273.9 L330.3,274.3 L330.9,274.9 L331.5,275.4 L332.2,275.9 L332.8,276.4 L333.4,276.8 L333.9,277.2 L334.4,277.5 L334.8,277.7 L335.3,277.9 L335.6,277.8 L336.0,277.7 L336.7,277.7 L337.1,277.7 L337.5,277.8 L338.0,277.8 L338.6,277.9 L339.2,278.0 L339.8,278.1 L340.5,278.1 L341.1,278.2 L341.7,278.2 L342.3,278.3 L342.8,278.3 L343.3,278.3 L343.8,278.3 L344.4,278.2 L344.9,278.0 L345.5,277.9 L346.1,277.8 L346.7,277.6 L347.2,277.5 L347.8,277.3 L348.3,277.2 L348.8,277.2 L349.3,277.2 L349.8,277.3 L350.3,277.4 L350.9,277.5 L351.5,277.7 L352.1,277.8 L352.7,277.9 L353.2,277.9 L353.8,277.9 L354.4,277.7 L354.8,277.5 L355.3,277.2 L355.9,276.8 L356.4,276.4 L357.1,275.9 L357.7,275.4 L358.3,274.8 L358.9,274.3 L359.6,273.8 L360.2,273.3 L360.7,272.9 L361.3,272.6 L361.8,272.3 L362.2,272.2 L362.8,272.2 L363.3,272.2 L363.9,272.4 L364.5,272.7 L365.0,273.0 L365.6,273.4 L366.1,273.8 L366.7,274.2 L367.2,274.6 L367.7,275.0 L368.2,275.3 L368.7,275.7 L369.2,276.2 L369.8,276.7 L370.4,277.3 L371.0,277.8 L371.6,278.4 L372.2,278.9 L372.8,279.4 L373.3,279.8 L373.8,280.2 L374.3,280.5 L374.8,280.8 L375.2,281.0 L375.7,281.2 L376.1,281.4 L376.6,281.5 L377.1,281.6 L377.6,281.7 L378.3,281.8 L379.0,281.8 L379.9,281.9 L380.3,281.9 L380.7,281.9 L381.1,282.0 L381.6,282.0 L382.2,282.0 L382.8,282.0 L383.4,282.0 L384.0,282.1 L384.6,282.1 L385.3,282.1 L386.0,282.1 L386.7,282.1 L387.4,282.1 L388.1,282.1 L388.9,282.1 L389.6,282.1 L390.3,282.1 L391.0,282.1 L391.7,282.1 L392.3,282.1 L393.0,282.1 L393.6,282.1 L394.2,282.1 L394.7,282.0 L395.2,282.0 L395.7,282.0 L396.1,281.9 L396.5,281.9 L397.3,281.8 L398.0,281.6 L398.6,281.4 L399.1,281.1 L399.7,280.8 L400.1,280.5 L400.6,280.2 L401.1,279.9 L401.6,279.6 L402.1,279.3 L402.6,279.0 L403.2,278.8 L403.6,278.6 L404.1,278.5 L404.6,278.3 L405.2,278.1 L405.8,277.9 L406.4,277.7 L407.0,277.5 L407.6,277.3 L408.3,277.1 L409.0,276.9 L409.6,276.7 L410.3,276.5 L410.9,276.3 L411.6,276.1 L412.2,276.0 L412.8,275.8 L413.3,275.7 L413.8,275.6 L414.3,275.5 L414.9,275.4 L415.5,275.3 L416.1,275.3 L416.7,275.2 L417.3,275.2 L418.0,275.1 L418.6,275.1 L419.2,275.1 L419.8,275.1 L420.4,275.2 L421.0,275.2 L421.6,275.2 L422.1,275.3 L422.6,275.4 L423.1,275.5 L423.6,275.7 L424.2,275.9 L424.8,276.2 L425.5,276.5 L426.1,276.9 L426.7,277.3 L427.3,277.7 L427.9,278.0 L428.5,278.4 L429.1,278.7 L429.6,279.0 L430.1,279.2 L430.5,279.4 L431.1,279.5 L431.7,279.5 L432.3,279.4 L432.8,279.2 L433.3,279.1 L433.9,279.0 L434.4,278.9 L435.0,279.0 L435.4,279.1 L435.9,279.3 L436.5,279.6 L437.1,279.9 L437.7,280.2 L438.3,280.6 L438.9,280.9 L439.5,281.2 L440.1,281.5 L440.7,281.8 L441.2,282.0 L441.6,282.1 L442.2,282.2 L442.7,282.3 L443.3,282.3 L443.8,282.3 L444.3,282.2 L444.9,282.0 L445.4,281.8 L446.0,281.6 L446.4,281.4 L446.9,281.0 L447.5,280.6 L448.0,280.2 L448.7,279.7 L449.3,279.2 L449.9,278.7 L450.5,278.2 L451.1,277.8 L451.7,277.5 L452.2,277.2 L452.7,277.1 L453.2,277.1 L453.8,277.2 L454.3,277.3 L454.9,277.6 L455.4,277.9 L456.0,278.2 L456.6,278.6 L457.2,278.9 L457.7,279.2 L458.3,279.4 L458.8,279.6 L459.3,279.8 L459.8,280.0 L460.4,280.2 L461.0,280.5 L461.7,280.7 L462.3,281.0 L462.9,281.2 L463.6,281.4 L464.2,281.5 L464.8,281.6 L465.4,281.6 L466.0,281.6 L466.5,281.5 L467.0,281.3 L467.6,281.0 L468.2,280.7 L468.8,280.3 L469.5,279.9 L470.1,279.5 L470.8,279.1 L471.4,278.7 L472.1,278.3 L472.7,277.9 L473.3,277.6 L473.9,277.4 L474.4,277.2 L474.9,277.1 L475.5,277.1 L476.0,277.2 L476.6,277.4 L477.2,277.7 L477.9,278.0 L478.5,278.4 L479.1,278.7 L479.7,279.1 L480.4,279.5 L480.9,279.8 L481.5,280.1 L482.1,280.3 L482.6,280.5 L483.1,280.6 L483.7,280.7 L484.3,280.9 L485.0,281.0 L485.7,281.0 L486.3,281.1 L487.0,281.2 L487.7,281.2 L488.3,281.2 L488.9,281.2 L489.5,281.2 L490.0,281.1 L490.4,281.0 L491.0,280.7 L491.7,280.4 L492.2,279.9 L492.8,279.3 L493.3,278.7 L493.9,278.1 L494.3,277.6 L494.8,277.1 L495.3,276.5 L495.9,275.8 L496.5,274.9 L497.1,274.2 L497.6,273.5 L498.2,273.0 L498.7,272.7 L499.2,272.7 L499.8,273.0 L500.3,273.4 L500.9,274.0 L501.5,274.5 L502.1,275.1 L502.6,275.5 L503.1,275.9 L503.6,276.3 L504.1,276.8 L504.7,277.3 L505.3,277.8 L505.9,278.2 L506.5,278.6 L507.0,278.8 L507.5,279.0 L508.0,279.1 L508.5,279.2 L509.1,279.4 L509.7,279.4 L510.4,279.5 L511.0,279.5 L511.5,279.4 L512.1,279.2 L512.6,279.0 L513.1,278.6 L513.6,278.1 L514.1,277.5 L514.7,276.8 L515.3,276.0 L515.8,275.2 L516.4,274.4 L517.0,273.6 L517.5,272.9 L518.1,272.2 L518.6,271.7 L519.1,271.1 L519.6,270.5 L520.2,269.9 L520.8,269.2 L521.5,268.5 L522.1,267.9 L522.8,267.2 L523.4,266.6 L524.0,265.9 L524.5,265.4 L525.0,264.9 L525.5,264.4 L526.1,263.8 L526.6,263.2 L527.2,262.6 L527.8,262.0 L528.4,261.4 L529.0,260.8 L529.5,260.3 L530.1,259.9 L530.6,259.6 L531.1,259.4 L531.6,259.4 L532.1,259.5 L532.7,259.7 L533.3,260.0 L533.9,260.4 L534.5,260.7 L535.1,261.0 L535.6,261.3 L536.1,261.5 L536.6,261.6 L537.1,261.5 L537.7,261.4 L538.3,261.1 L538.9,260.8 L539.5,260.4 L540.0,260.1 L540.6,259.7 L541.1,259.4 L541.6,259.1 L542.1,258.7 L542.7,258.3 L543.3,257.8 L543.9,257.3 L544.5,256.9 L545.0,256.5 L545.5,256.3 L546.0,256.1 L546.6,256.1 L547.1,256.2 L547.7,256.4 L548.3,256.7 L548.9,257.0 L549.4,257.4 L549.9,257.7 L550.4,258.2 L551.0,258.8 L551.6,259.5 L552.2,260.1 L552.7,260.7 L553.3,261.1 L553.8,261.3 L554.3,261.4 L554.8,261.4 L555.4,261.4 L556.1,261.5 L556.6,261.5 L557.2,261.5 L557.7,261.6 L558.2,261.7 L558.7,261.9 L559.3,262.1 L559.8,262.4 L560.4,262.6 L561.0,262.9 L561.6,263.1 L562.1,263.3 L562.6,263.4 L563.0,263.6 L563.6,263.7 L564.1,263.9 L564.7,264.0 L565.3,264.2 L565.9,264.3 L566.5,264.5 L567.1,264.8 L567.7,265.0 L568.2,265.2 L568.7,265.5 L569.2,265.9 L569.8,266.3 L570.5,266.7 L571.1,267.1 L571.8,267.5 L572.4,267.9 L573.1,268.3 L573.7,268.7 L574.3,269.0 L574.9,269.2 L575.4,269.4 L575.9,269.5 L576.4,269.6 L577.0,269.6 L577.6,269.6 L578.2,269.6 L578.8,269.5 L579.5,269.5 L580.1,269.4 L580.7,269.4 L581.3,269.3 L581.8,269.3 L582.3,269.3 L582.8,269.3 L583.2,269.4 L583.8,269.6 L584.4,269.8 L584.9,270.1 L585.5,270.5 L586.0,270.9 L586.5,271.3 L587.0,271.7 L587.6,272.2 L588.0,272.6 L588.5,273.0 L589.0,273.5 L589.5,274.1 L590.1,274.7 L590.7,275.3 L591.3,275.9 L591.9,276.5 L592.5,277.0 L593.2,277.5 L593.7,277.9 L594.3,278.2 L594.8,278.4 L595.3,278.6 L595.9,278.7 L596.5,278.9 L597.1,279.0 L597.8,279.1 L598.4,279.2 L599.1,279.3 L599.7,279.4 L600.4,279.4 L601.0,279.4 L601.6,279.5 L602.2,279.5 L602.7,279.4 L603.1,279.4 L603.7,279.2 L604.3,278.9 L604.9,278.5 L605.4,278.1 L606.0,277.6 L606.6,277.2 L607.1,276.8 L607.7,276.6 L608.3,276.5 L608.9,276.6 L609.3,276.8 L609.8,277.2 L610.4,277.8 L610.9,278.4 L611.5,279.1 L612.1,279.9 L612.8,280.7 L613.4,281.5 L614.0,282.2 L614.7,283.0 L615.3,283.6 L616.0,284.1 L616.6,284.6 L617.1,284.8 L617.7,284.9 L618.2,284.8 L618.7,284.6 L619.3,284.2 L619.9,283.7 L620.5,283.1 L621.1,282.5 L621.8,281.8 L622.4,281.1 L623.1,280.3 L623.7,279.6 L624.4,278.8 L625.0,278.1 L625.6,277.5 L626.2,277.0 L626.7,276.5 L627.2,276.2 L627.7,276.0 L628.3,275.9 L628.9,275.9 L629.5,276.1 L630.1,276.3 L630.7,276.7 L631.4,277.1 L632.0,277.5 L632.6,277.9 L633.2,278.4 L633.8,278.9 L634.4,279.3 L634.9,279.7 L635.5,280.0 L636.0,280.3 L636.5,280.5 L637.1,280.8 L637.7,281.1 L638.3,281.4 L639.0,281.8 L639.6,282.1 L640.3,282.5 L640.9,282.8 L641.6,283.1 L642.2,283.5 L642.8,283.9 L643.3,284.2 L643.8,284.6 L644.3,284.9 L644.9,285.4 L645.4,285.9 L646.0,286.6 L646.6,287.2 L647.2,287.9 L647.8,288.6 L648.3,289.3 L648.9,290.0 L649.5,290.6 L650.0,291.2 L650.5,291.7 L651.0,292.1 L651.5,292.4 L651.9,292.8 L652.4,293.1 L652.9,293.3 L653.4,293.6 L653.9,293.8 L654.5,294.0 L655.0,294.2 L655.6,294.4 L656.3,294.5 L656.9,294.6 L657.6,294.7 L658.0,294.7 L658.4,294.8 L658.9,294.8 L659.4,294.8 L660.0,294.8 L660.5,294.8 L661.1,294.8 L661.7,294.8 L662.4,294.8 L663.0,294.8 L663.7,294.8 L664.3,294.7 L665.0,294.7 L665.7,294.6 L666.3,294.6 L667.0,294.5 L667.6,294.4 L668.2,294.4 L668.9,294.3 L669.4,294.2 L670.0,294.1 L670.5,293.9 L671.0,293.8 L671.5,293.6 L672.1,293.4 L672.7,293.1 L673.3,292.8 L673.9,292.4 L674.5,292.0 L675.1,291.6 L675.8,291.2 L676.4,290.8 L677.0,290.4 L677.7,289.9 L678.3,289.5 L678.9,289.1 L679.5,288.7 L680.1,288.3 L680.7,288.0 L681.2,287.7 L681.7,287.5 L682.2,287.3 L682.7,287.2 L683.1,287.1 L683.7,287.1 L684.4,287.3 L685.0,287.6 L685.6,288.0 L686.3,288.4 L686.9,288.9 L687.5,289.5 L688.1,290.0 L688.6,290.6 L689.2,291.1 L689.8,291.5 L690.3,291.9 L690.9,292.1 L691.4,292.2 L691.9,292.4 L692.5,292.5 L693.1,292.6 L693.8,292.6 L694.4,292.7 L695.1,292.7 L695.8,292.7 L696.4,292.7 L697.1,292.7 L697.7,292.7 L698.3,292.7 L698.8,292.7 L699.3,292.7 L699.8,292.7 L700.4,292.7 L700.9,292.6 L701.5,292.6 L702.0,292.5 L702.5,292.4 L703.0,292.3 L703.6,292.2 L704.1,292.1 L704.7,292.0 L705.3,291.9 L706.0,291.9 L706.4,291.9 L706.9,291.9 L707.4,291.9 L708.0,291.8 L708.6,291.8 L709.3,291.8 L710.0,291.8 L710.6,291.8 L711.3,291.8 L712.0,291.8 L712.7,291.8 L713.4,291.8 L714.1,291.8 L714.7,291.8 L715.3,291.8 L715.9,291.9 L716.4,291.9 L716.8,291.9 L717.2,291.9 L718.0,292.0 L718.6,292.1 L719.1,292.2 L719.6,292.4 L720.1,292.5 L720.6,292.6 L721.1,292.7 L721.6,292.7 L722.0,292.7 L722.5,292.6 L723.0,292.6 L723.5,292.5 L724.1,292.5 L724.7,292.4 L725.3,292.3 L725.9,292.2 L726.5,292.0 L727.2,291.9 L727.7,291.8 L728.3,291.6 L728.8,291.4 L729.3,291.3 L729.9,291.0 L730.5,290.8 L731.2,290.5 L731.8,290.2 L732.5,289.9 L733.2,289.6 L733.9,289.3 L734.5,289.0 L735.2,288.8 L735.7,288.6 L736.3,288.4 L736.7,288.3 L737.1,288.2 L737.8,288.3 L738.3,288.7 L738.7,289.2 L739.2,289.7 L739.7,290.0 L740.5,289.9 L740.9,289.7 L741.3,289.5 L741.8,289.2 L742.4,288.8 L743.0,288.4 L743.6,288.0 L744.3,287.5 L745.0,287.0 L745.7,286.5 L746.4,286.0 L747.1,285.5 L747.7,285.0 L748.3,284.6 L748.9,284.2 L749.5,283.8 L750.0,283.5 L750.4,283.3 L751.0,283.0 L751.6,282.8 L752.1,282.7 L752.6,282.7 L753.1,282.6 L753.6,282.6 L754.2,282.6 L754.7,282.5 L755.3,282.4 L756.0,282.2 L756.4,282.1 L756.9,281.9 L757.4,281.7 L758.0,281.5 L758.6,281.3 L759.2,281.0 L759.9,280.8 L760.6,280.5 L761.3,280.2 L762.0,279.9 L762.7,279.6 L763.3,279.4 L764.0,279.1 L764.6,278.8 L765.2,278.6 L765.8,278.3 L766.3,278.1 L766.7,277.9 L767.1,277.7 L767.9,277.3 L768.6,276.8 L769.3,276.3 L769.9,275.8 L770.4,275.4 L770.9,275.0 L771.2,274.6 L771.5,274.4 L771.8,274.6 L772.2,274.8 L772.7,275.1 L773.3,275.5 L773.9,275.9 L774.5,276.3 L775.2,276.7 L775.8,277.0 L776.4,277.4 L777.0,277.7 L777.5,277.9 L778.0,278.2 L778.5,278.5 L779.1,278.8 L779.7,279.1 L780.4,279.4 L781.0,279.7 L781.6,280.0 L782.2,280.3 L782.7,280.5 L783.2,280.8 L783.7,281.0 L784.2,281.2 L784.8,281.4 L785.4,281.6 L785.9,281.8 L786.5,282.0 L787.1,282.2 L787.6,282.5 L788.2,282.7 L788.7,283.0 L789.2,283.3 L789.7,283.7 L790.3,284.2 L790.9,284.8 L791.5,285.4 L792.1,286.1 L792.8,286.8 L793.4,287.4 L793.9,288.0 L794.4,288.4 L794.8,288.8 L795.4,289.3 L796.0,289.6 L796.5,289.8 L797.1,289.9 L797.8,289.9 L798.2,289.8 L798.6,289.7 L799.2,289.5 L799.7,289.3 L800.3,289.1 L801.0,288.8 L801.6,288.5 L802.2,288.3 L802.8,288.1 L803.4,287.9 L803.9,287.8 L804.4,287.7 L804.9,287.7 L805.5,287.8 L806.0,287.9 L806.6,288.0 L807.1,288.2 L807.7,288.4 L808.3,288.5 L808.9,288.7 L809.4,288.8 L810.0,288.8 L810.5,288.8 L811.0,288.8 L811.5,288.7 L812.1,288.6 L812.7,288.5 L813.3,288.4 L813.9,288.3 L814.6,288.2 L815.2,288.1 L815.9,288.0 L816.5,287.9 L817.1,287.8 L817.7,287.7 L818.2,287.6 L818.7,287.5 L819.2,287.4 L819.8,287.3 L820.5,287.2 L821.1,287.1 L821.8,286.9 L822.4,286.8 L823.1,286.7 L823.8,286.5 L824.4,286.4 L825.0,286.3 L825.6,286.2 L826.2,286.1 L826.8,286.1 L827.3,286.0 L827.7,286.0 L828.3,286.0 L829.0,286.1 L829.7,286.2 L830.3,286.4 L831.0,286.6 L831.6,286.7 L832.2,286.9 L832.8,287.1 L833.3,287.2 L833.8,287.2 L834.3,287.2 L834.9,287.0 L835.5,286.7 L836.1,286.3 L836.7,285.9 L837.2,285.4 L837.8,285.0 L838.3,284.6 L838.8,284.4 L839.3,284.2 L839.8,284.1 L840.4,284.1 L840.9,284.0 L841.5,284.0 L842.1,284.0 L842.7,283.9 L843.2,283.8 L843.7,283.7 L844.2,283.5 L844.7,283.2 L845.3,283.0 L845.9,282.7 L846.5,282.5 L847.1,282.3 L847.7,282.2 L848.3,282.1 L848.8,282.2 L849.3,282.4 L849.8,282.6 L850.4,283.0 L851.0,283.4 L851.6,283.9 L852.2,284.3 L852.8,284.8 L853.4,285.3 L854.0,285.7 L854.5,286.1 L855.0,286.4 L855.4,286.6 L856.0,286.8 L856.6,286.9 L857.0,286.9 L857.5,286.7 L858.1,286.4 L858.7,286.0 L859.1,285.7 L859.6,285.3 L860.1,284.8 L860.7,284.3 L861.4,283.7 L862.0,283.1 L862.7,282.5 L863.3,281.9 L863.9,281.3 L864.5,280.8 L865.0,280.4 L865.4,280.0 L866.0,279.5 L866.6,278.9 L867.2,278.5 L867.7,278.0 L868.2,277.6 L868.8,277.4 L869.3,277.2 L869.8,277.2 L870.3,277.2 L870.8,277.3 L871.4,277.5 L872.0,277.6 L872.6,277.8 L873.2,278.0 L873.8,278.2 L874.3,278.3 L874.8,278.4 L875.3,278.6 L875.8,278.8 L876.4,279.0 L877.0,279.1 L877.5,279.3 L878.1,279.4 L878.7,279.5 L879.3,279.5 L879.8,279.4 L880.3,279.2 L880.8,278.9 L881.3,278.6 L881.9,278.1 L882.5,277.6 L883.1,277.1 L883.8,276.7 L884.4,276.2 L885.0,275.8 L885.6,275.4 L886.1,275.2 L886.6,275.1 L887.1,275.1 L887.6,275.3 L888.2,275.5 L888.7,275.8 L889.3,276.1 L889.9,276.5 L890.5,276.9 L891.1,277.3 L891.6,277.6 L892.2,277.9 L892.7,278.1 L893.2,278.2 L893.7,278.2 L894.2,278.2 L894.7,278.2 L895.2,278.1 L895.8,278.0 L896.4,277.8 L896.9,277.7 L897.5,277.5 L898.1,277.3 L898.7,277.1 L899.3,276.8 L899.9,276.6 L900.3,276.4 L900.8,276.2 L901.4,275.9 L902.0,275.6 L902.6,275.2 L903.2,274.8 L903.9,274.4 L904.6,274.1 L905.2,273.7 L905.9,273.3 L906.6,272.9 L907.2,272.6 L907.8,272.3 L908.4,272.1 L909.0,271.8 L909.5,271.7 L909.9,271.6 L910.5,271.6 L911.1,271.6 L911.6,271.8 L912.2,271.9 L912.7,272.2 L913.3,272.5 L913.8,272.8 L914.3,273.1 L914.9,273.5 L915.4,273.8 L916.0,274.1 L916.5,274.4 L917.0,274.7 L917.5,275.0 L918.1,275.4 L918.7,275.8 L919.3,276.2 L919.9,276.7 L920.6,277.2 L921.3,277.6 L921.9,278.1 L922.6,278.4 L923.2,278.8 L923.8,279.0 L924.4,279.2 L924.9,279.3 L925.4,279.3 L926.0,279.1 L926.6,278.7 L927.3,278.1 L928.0,277.4 L928.7,276.6 L929.4,275.7 L930.1,274.8 L930.7,274.0 L931.3,273.2 L931.8,272.5 L932.2,272.0 L932.5,271.6 L932.5,360.8 L47,360.8 Z" fill="#fdfdf0"/>
<g clip-path="url(#area)">
<rect x="283.5" y="200" width="23" height="170" fill="#d9eab3"/>
<rect x="605" y="200" width="39.0" height="170" fill="#dadbdf"/>
<rect x="673" y="200" width="43.5" height="170" fill="#dadbdf"/>
<rect x="726" y="200" width="45.5" height="170" fill="#dadbdf"/>
<rect x="836" y="200" width="3.6" height="170" fill="#d3d8e0"/>
<rect x="858.4" y="200" width="10.8" height="170" fill="#dadbdf"/>
<line x1="47" x2="932" y1="263.4" y2="263.4" stroke="#9a9a90" stroke-width="1" stroke-dasharray="1 2.7"/>
<line x1="47" x2="932" y1="275.8" y2="275.8" stroke="#9a9a90" stroke-width="1" stroke-dasharray="1 2.7"/>
<line x1="47" x2="932" y1="288.2" y2="288.2" stroke="#9a9a90" stroke-width="1" stroke-dasharray="1 2.7"/>
<line x1="47" x2="932" y1="300.6" y2="300.6" stroke="#9a9a90" stroke-width="1" stroke-dasharray="1 2.7"/>
<line x1="47" x2="932" y1="313.0" y2="313.0" stroke="#9a9a90" stroke-width="1" stroke-dasharray="1 2.7"/>
<line x1="47" x2="932" y1="325.4" y2="325.4" stroke="#9a9a90" stroke-width="1" stroke-dasharray="1 2.7"/>
<line x1="47" x2="932" y1="337.8" y2="337.8" stroke="#9a9a90" stroke-width="1" stroke-dasharray="1 2.7"/>
<line x1="47" x2="932" y1="350.2" y2="350.2" stroke="#9a9a90" stroke-width="1" stroke-dasharray="1 2.7"/>
<line x1="71.1" x2="71.1" y1="220" y2="361" stroke="#d8d8cc" stroke-width="1"/>
<line x1="95.7" x2="95.7" y1="220" y2="361" stroke="#8a8a84" stroke-width="1" stroke-dasharray="1 1.5"/>
<line x1="120.4" x2="120.4" y1="220" y2="361" stroke="#d8d8cc" stroke-width="1"/>
<line x1="145.0" x2="145.0" y1="220" y2="361" stroke="#8a8a84" stroke-width="1" stroke-dasharray="1 1.5"/>
<line x1="169.6" x2="169.6" y1="220" y2="361" stroke="#d8d8cc" stroke-width="1"/>
<line x1="194.2" x2="194.2" y1="220" y2="361" stroke="#8a8a84" stroke-width="1" stroke-dasharray="1 1.5"/>
<line x1="218.8" x2="218.8" y1="220" y2="361" stroke="#d8d8cc" stroke-width="1"/>
<line x1="243.5" x2="243.5" y1="220" y2="361" stroke="#8a8a84" stroke-width="1" stroke-dasharray="1 1.5"/>
<line x1="268.1" x2="268.1" y1="220" y2="361" stroke="#d8d8cc" stroke-width="1"/>
<line x1="292.7" x2="292.7" y1="220" y2="361" stroke="#8a8a84" stroke-width="1" stroke-dasharray="1 1.5"/>
<line x1="317.3" x2="317.3" y1="220" y2="361" stroke="#d8d8cc" stroke-width="1"/>
<line x1="341.9" x2="341.9" y1="220" y2="361" stroke="#8a8a84" stroke-width="1" stroke-dasharray="1 1.5"/>
<line x1="366.6" x2="366.6" y1="220" y2="361" stroke="#d8d8cc" stroke-width="1"/>
<line x1="391.2" x2="391.2" y1="220" y2="361" stroke="#8a8a84" stroke-width="1" stroke-dasharray="1 1.5"/>
<line x1="415.8" x2="415.8" y1="220" y2="361" stroke="#d8d8cc" stroke-width="1"/>
<line x1="440.4" x2="440.4" y1="220" y2="361" stroke="#8a8a84" stroke-width="1" stroke-dasharray="1 1.5"/>
<line x1="465.0" x2="465.0" y1="220" y2="361" stroke="#d8d8cc" stroke-width="1"/>
<line x1="489.7" x2="489.7" y1="220" y2="361" stroke="#8a8a84" stroke-width="1" stroke-dasharray="1 1.5"/>
<line x1="514.3" x2="514.3" y1="220" y2="361" stroke="#d8d8cc" stroke-width="1"/>
<line x1="538.9" x2="538.9" y1="220" y2="361" stroke="#8a8a84" stroke-width="1" stroke-dasharray="1 1.5"/>
<line x1="563.5" x2="563.5" y1="220" y2="361" stroke="#d8d8cc" stroke-width="1"/>
<line x1="588.1" x2="588.1" y1="220" y2="361" stroke="#8a8a84" stroke-width="1" stroke-dasharray="1 1.5"/>
<line x1="612.8" x2="612.8" y1="220" y2="361" stroke="#d8d8cc" stroke-width="1"/>
<line x1="637.4" x2="637.4" y1="220" y2="361" stroke="#8a8a84" stroke-width="1" stroke-dasharray="1 1.5"/>
<line x1="662.0" x2="662.0" y1="220" y2="361" stroke="#d8d8cc" stroke-width="1"/>
<line x1="686.6" x2="686.6" y1="220" y2="361" stroke="#8a8a84" stroke-width="1" stroke-dasharray="1 1.5"/>
<line x1="711.2" x2="711.2" y1="220" y2="361" stroke="#d8d8cc" stroke-width="1"/>
<line x1="735.9" x2="735.9" y1="220" y2="361" stroke="#8a8a84" stroke-width="1" stroke-dasharray="1 1.5"/>
<line x1="760.5" x2="760.5" y1="220" y2="361" stroke="#d8d8cc" stroke-width="1"/>
<line x1="785.1" x2="785.1" y1="220" y2="361" stroke="#8a8a84" stroke-width="1" stroke-dasharray="1 1.5"/>
<line x1="809.7" x2="809.7" y1="220" y2="361" stroke="#d8d8cc" stroke-width="1"/>
<line x1="834.3" x2="834.3" y1="220" y2="361" stroke="#8a8a84" stroke-width="1" stroke-dasharray="1 1.5"/>
<line x1="859.0" x2="859.0" y1="220" y2="361" stroke="#d8d8cc" stroke-width="1"/>
<line x1="883.6" x2="883.6" y1="220" y2="361" stroke="#8a8a84" stroke-width="1" stroke-dasharray="1 1.5"/>
<line x1="908.2" x2="908.2" y1="220" y2="361" stroke="#d8d8cc" stroke-width="1"/>
</g>
<line x1="71.6" x2="71.6" y1="236.7" y2="385.5" stroke="#555" stroke-width="1"/>
<line x1="119.5" x2="119.5" y1="249.5" y2="385.5" stroke="#555" stroke-width="1"/>
<line x1="156.9" x2="156.9" y1="257.9" y2="385.5" stroke="#555" stroke-width="1"/>
<line x1="177.4" x2="177.4" y1="257.9" y2="385.5" stroke="#555" stroke-width="1"/>
<line x1="194.5" x2="194.5" y1="257.9" y2="385.5" stroke="#555" stroke-width="1"/>
<line x1="223.2" x2="223.2" y1="252.5" y2="385.5" stroke="#555" stroke-width="1"/>
<line x1="278.2" x2="278.2" y1="251.3" y2="385.5" stroke="#555" stroke-width="1"/>
<line x1="306.5" x2="306.5" y1="209.2" y2="360.8" stroke="#111" stroke-width="1.3"/>
<line x1="343.4" x2="343.4" y1="253.9" y2="385.5" stroke="#555" stroke-width="1"/>
<line x1="371.5" x2="371.5" y1="254.5" y2="385.5" stroke="#555" stroke-width="1"/>
<line x1="425.6" x2="425.6" y1="250.3" y2="385.5" stroke="#555" stroke-width="1"/>
<line x1="454.4" x2="454.4" y1="250.3" y2="385.5" stroke="#555" stroke-width="1"/>
<line x1="494.5" x2="494.5" y1="254.3" y2="385.5" stroke="#555" stroke-width="1"/>
<line x1="540.5" x2="540.5" y1="234.0" y2="385.5" stroke="#555" stroke-width="1"/>
<line x1="561.7" x2="561.7" y1="238.9" y2="385.5" stroke="#555" stroke-width="1"/>
<line x1="596.0" x2="596.0" y1="253.5" y2="385.5" stroke="#555" stroke-width="1"/>
<line x1="635.4" x2="635.4" y1="255.2" y2="385.5" stroke="#555" stroke-width="1"/>
<line x1="655.4" x2="655.4" y1="269.8" y2="385.5" stroke="#555" stroke-width="1"/>
<line x1="717.8" x2="717.8" y1="267.4" y2="385.5" stroke="#555" stroke-width="1"/>
<line x1="751.4" x2="751.4" y1="255.2" y2="385.5" stroke="#555" stroke-width="1"/>
<line x1="771.5" x2="771.5" y1="246.7" y2="360.8" stroke="#111" stroke-width="1.3"/>
<line x1="809.5" x2="809.5" y1="264.5" y2="385.5" stroke="#555" stroke-width="1"/>
<line x1="831.6" x2="831.6" y1="258.7" y2="385.5" stroke="#555" stroke-width="1"/>
<line x1="869.3" x2="869.3" y1="250.0" y2="385.5" stroke="#555" stroke-width="1"/>
<line x1="903.6" x2="903.6" y1="250.0" y2="385.5" stroke="#555" stroke-width="1"/>
<path d="M47.0,253.9 L47.3,254.0 L47.7,254.1 L48.2,254.2 L48.8,254.4 L49.4,254.5 L50.0,254.7 L50.7,254.9 L51.4,255.1 L52.2,255.3 L52.9,255.5 L53.6,255.7 L54.3,255.9 L54.9,256.2 L55.5,256.4 L56.0,256.6 L56.6,256.9 L57.2,257.2 L57.8,257.6 L58.5,258.1 L59.1,258.5 L59.8,259.0 L60.5,259.5 L61.1,259.9 L61.7,260.4 L62.3,260.8 L62.9,261.1 L63.4,261.4 L63.8,261.6 L64.4,261.8 L65.1,261.9 L65.7,261.9 L66.3,261.8 L66.9,261.7 L67.4,261.6 L67.9,261.6 L68.3,261.6 L68.8,261.7 L69.3,261.9 L69.8,262.1 L70.4,262.3 L70.9,262.5 L71.6,262.7 L72.0,262.8 L72.4,262.9 L72.9,262.9 L73.5,263.0 L74.1,263.1 L74.7,263.2 L75.3,263.3 L75.9,263.4 L76.5,263.5 L77.1,263.6 L77.7,263.7 L78.3,263.8 L78.8,263.9 L79.3,264.1 L79.9,264.2 L80.5,264.4 L81.1,264.6 L81.8,264.9 L82.4,265.1 L83.1,265.3 L83.8,265.5 L84.4,265.7 L85.0,265.9 L85.6,266.1 L86.2,266.2 L86.7,266.3 L87.1,266.4 L87.7,266.5 L88.3,266.5 L88.9,266.4 L89.5,266.4 L90.1,266.3 L90.7,266.2 L91.3,266.1 L91.8,266.0 L92.3,266.0 L92.7,266.0 L93.2,266.1 L93.7,266.3 L94.3,266.5 L94.8,266.7 L95.3,266.9 L95.9,267.1 L96.5,267.2 L97.1,267.2 L97.5,267.1 L98.0,267.0 L98.6,266.9 L99.2,266.7 L99.8,266.6 L100.4,266.4 L101.1,266.1 L101.8,265.9 L102.4,265.7 L103.0,265.5 L103.6,265.3 L104.1,265.2 L104.5,265.1 L104.9,265.0 L105.7,264.8 L106.1,264.8 L106.5,265.0 L107.1,265.5 L107.5,265.9 L107.9,266.4 L108.4,267.0 L109.0,267.7 L109.6,268.5 L110.2,269.2 L110.9,269.9 L111.5,270.6 L112.1,271.2 L112.6,271.6 L113.1,271.9 L113.6,272.1 L114.1,272.3 L114.7,272.5 L115.2,272.7 L115.8,272.8 L116.4,273.0 L117.0,273.1 L117.6,273.3 L118.2,273.4 L118.8,273.6 L119.3,273.8 L119.8,274.0 L120.4,274.2 L121.0,274.5 L121.6,274.8 L122.3,275.1 L122.9,275.4 L123.6,275.7 L124.3,276.0 L124.9,276.3 L125.5,276.5 L126.1,276.8 L126.6,276.9 L127.0,277.1 L127.6,277.3 L128.3,277.4 L128.9,277.5 L129.4,277.6 L130.0,277.7 L130.5,277.7 L131.0,277.7 L131.5,277.7 L132.0,277.6 L132.6,277.5 L133.1,277.4 L133.7,277.2 L134.3,277.0 L134.9,276.9 L135.4,276.8 L135.9,276.8 L136.4,276.9 L137.0,277.0 L137.6,277.2 L138.2,277.5 L138.8,277.8 L139.4,278.0 L140.0,278.3 L140.4,278.5 L140.9,278.8 L141.4,279.1 L141.8,279.4 L142.4,279.8 L142.9,280.1 L143.5,280.4 L144.1,280.7 L144.8,281.0 L145.2,281.1 L145.7,281.3 L146.2,281.4 L146.7,281.6 L147.3,281.8 L147.9,282.0 L148.5,282.1 L149.1,282.3 L149.8,282.5 L150.5,282.6 L151.1,282.8 L151.8,282.9 L152.5,283.0 L153.1,283.1 L153.8,283.2 L154.4,283.3 L154.8,283.3 L155.3,283.4 L155.8,283.4 L156.4,283.4 L156.9,283.4 L157.5,283.5 L158.1,283.5 L158.8,283.5 L159.4,283.5 L160.1,283.5 L160.7,283.5 L161.4,283.4 L162.0,283.4 L162.7,283.4 L163.3,283.4 L163.9,283.4 L164.5,283.4 L165.1,283.4 L165.7,283.4 L166.2,283.3 L166.8,283.3 L167.3,283.3 L167.7,283.3 L168.3,283.3 L168.9,283.3 L169.4,283.2 L170.0,283.2 L170.5,283.2 L171.1,283.1 L171.7,283.1 L172.2,283.1 L172.8,283.0 L173.4,283.0 L174.0,283.0 L174.6,282.9 L175.2,282.9 L175.8,282.8 L176.4,282.8 L177.0,282.7 L177.7,282.7 L178.1,282.7 L178.6,282.6 L179.1,282.6 L179.6,282.6 L180.1,282.6 L180.7,282.5 L181.3,282.5 L181.9,282.5 L182.6,282.4 L183.2,282.4 L183.9,282.3 L184.5,282.3 L185.2,282.3 L185.9,282.2 L186.6,282.2 L187.2,282.1 L187.9,282.1 L188.6,282.0 L189.2,282.0 L189.9,282.0 L190.5,281.9 L191.1,281.9 L191.7,281.8 L192.3,281.8 L192.8,281.7 L193.4,281.7 L193.8,281.6 L194.3,281.6 L194.9,281.5 L195.5,281.5 L196.0,281.4 L196.6,281.3 L197.2,281.2 L197.8,281.1 L198.4,281.0 L198.9,280.9 L199.5,280.8 L200.1,280.7 L200.7,280.6 L201.3,280.5 L201.9,280.4 L202.4,280.3 L203.0,280.2 L203.6,280.1 L204.2,280.0 L204.8,279.9 L205.3,279.8 L205.9,279.8 L206.5,279.7 L207.0,279.6 L207.4,279.6 L208.0,279.5 L208.5,279.5 L209.1,279.4 L209.6,279.4 L210.2,279.3 L210.9,279.3 L211.5,279.2 L212.2,279.2 L212.8,279.1 L213.5,279.1 L214.1,279.0 L214.8,279.0 L215.5,278.9 L216.2,278.9 L216.8,278.8 L217.5,278.8 L218.1,278.7 L218.8,278.7 L219.4,278.6 L220.0,278.6 L220.6,278.5 L221.1,278.5 L221.7,278.4 L222.2,278.4 L222.7,278.3 L223.1,278.3 L223.7,278.2 L224.3,278.2 L224.9,278.1 L225.6,278.1 L226.2,278.0 L226.8,277.9 L227.5,277.9 L228.1,277.8 L228.7,277.7 L229.3,277.7 L230.0,277.6 L230.6,277.5 L231.2,277.5 L231.8,277.4 L232.3,277.3 L232.9,277.3 L233.5,277.2 L234.0,277.2 L234.5,277.1 L235.0,277.1 L235.5,277.1 L236.0,277.0 L236.6,277.0 L237.1,277.0 L237.7,276.9 L238.2,276.9 L238.8,276.9 L239.4,276.8 L240.0,276.8 L240.5,276.8 L241.1,276.7 L241.7,276.7 L242.3,276.7 L242.9,276.7 L243.5,276.7 L244.2,276.6 L244.8,276.6 L245.4,276.6 L246.0,276.6 L246.4,276.6 L246.9,276.6 L247.4,276.6 L247.9,276.6 L248.5,276.6 L249.1,276.6 L249.6,276.6 L250.3,276.6 L250.9,276.6 L251.5,276.6 L252.2,276.6 L252.8,276.6 L253.5,276.6 L254.2,276.6 L254.8,276.7 L255.5,276.7 L256.2,276.7 L256.8,276.7 L257.5,276.7 L258.1,276.7 L258.8,276.7 L259.4,276.7 L260.0,276.7 L260.6,276.7 L261.2,276.6 L261.7,276.6 L262.2,276.6 L262.7,276.6 L263.2,276.6 L263.8,276.5 L264.4,276.5 L265.0,276.5 L265.6,276.4 L266.3,276.4 L266.9,276.3 L267.5,276.3 L268.2,276.2 L268.9,276.2 L269.5,276.1 L270.2,276.0 L270.8,276.0 L271.4,275.9 L272.1,275.8 L272.7,275.8 L273.3,275.7 L273.9,275.6 L274.4,275.6 L274.9,275.5 L275.4,275.4 L275.9,275.4 L276.3,275.3 L276.7,275.3 L277.1,275.2 L277.9,275.1 L278.6,275.0 L279.2,274.9 L279.8,274.9 L280.3,274.8 L280.7,274.6 L281.2,274.4 L281.7,274.1 L282.2,273.7 L282.7,273.2 L283.2,272.7 L283.7,272.0 L284.3,271.2 L284.9,270.3 L285.5,269.3 L286.2,268.2 L286.8,267.2 L287.5,266.1 L288.1,265.0 L288.8,263.9 L289.3,262.9 L289.9,261.9 L290.4,261.0 L290.9,260.0 L291.5,259.0 L292.1,257.9 L292.7,256.7 L293.3,255.5 L293.9,254.2 L294.5,253.0 L295.0,251.8 L295.6,250.7 L296.1,249.6 L296.6,248.6 L297.1,247.7 L297.6,246.7 L298.2,245.6 L298.8,244.5 L299.4,243.3 L300.0,242.2 L300.6,241.1 L301.2,240.1 L301.7,239.2 L302.2,238.4 L302.6,237.8 L303.2,237.1 L303.9,236.5 L304.5,236.1 L305.2,235.7 L305.7,235.4 L306.2,235.2 L306.5,235.0 L306.8,235.4 L307.3,235.8 L307.8,236.4 L308.4,237.2 L309.1,238.0 L309.7,238.9 L310.4,240.0 L310.8,240.7 L311.3,241.6 L311.8,242.6 L312.4,243.8 L312.9,245.0 L313.6,246.2 L314.2,247.5 L314.8,248.8 L315.4,250.0 L316.0,251.2 L316.5,252.3 L317.0,253.3 L317.5,254.3 L318.0,255.4 L318.6,256.5 L319.2,257.8 L319.7,259.0 L320.3,260.2 L321.0,261.5 L321.5,262.7 L322.1,263.8 L322.7,264.8 L323.2,265.8 L323.7,266.6 L324.2,267.3 L324.7,268.1 L325.3,268.8 L325.9,269.6 L326.5,270.3 L327.1,271.0 L327.7,271.6 L328.3,272.3 L328.9,272.9 L329.4,273.4 L329.9,273.9 L330.3,274.3 L330.9,274.9 L331.5,275.4 L332.2,275.9 L332.8,276.4 L333.4,276.8 L333.9,277.2 L334.4,277.5 L334.8,277.7 L335.3,277.9 L335.6,277.8 L336.0,277.7 L336.7,277.7 L337.1,277.7 L337.5,277.8 L338.0,277.8 L338.6,277.9 L339.2,278.0 L339.8,278.1 L340.5,278.1 L341.1,278.2 L341.7,278.2 L342.3,278.3 L342.8,278.3 L343.3,278.3 L343.8,278.3 L344.4,278.2 L344.9,278.0 L345.5,277.9 L346.1,277.8 L346.7,277.6 L347.2,277.5 L347.8,277.3 L348.3,277.2 L348.8,277.2 L349.3,277.2 L349.8,277.3 L350.3,277.4 L350.9,277.5 L351.5,277.7 L352.1,277.8 L352.7,277.9 L353.2,277.9 L353.8,277.9 L354.4,277.7 L354.8,277.5 L355.3,277.2 L355.9,276.8 L356.4,276.4 L357.1,275.9 L357.7,275.4 L358.3,274.8 L358.9,274.3 L359.6,273.8 L360.2,273.3 L360.7,272.9 L361.3,272.6 L361.8,272.3 L362.2,272.2 L362.8,272.2 L363.3,272.2 L363.9,272.4 L364.5,272.7 L365.0,273.0 L365.6,273.4 L366.1,273.8 L366.7,274.2 L367.2,274.6 L367.7,275.0 L368.2,275.3 L368.7,275.7 L369.2,276.2 L369.8,276.7 L370.4,277.3 L371.0,277.8 L371.6,278.4 L372.2,278.9 L372.8,279.4 L373.3,279.8 L373.8,280.2 L374.3,280.5 L374.8,280.8 L375.2,281.0 L375.7,281.2 L376.1,281.4 L376.6,281.5 L377.1,281.6 L377.6,281.7 L378.3,281.8 L379.0,281.8 L379.9,281.9 L380.3,281.9 L380.7,281.9 L381.1,282.0 L381.6,282.0 L382.2,282.0 L382.8,282.0 L383.4,282.0 L384.0,282.1 L384.6,282.1 L385.3,282.1 L386.0,282.1 L386.7,282.1 L387.4,282.1 L388.1,282.1 L388.9,282.1 L389.6,282.1 L390.3,282.1 L391.0,282.1 L391.7,282.1 L392.3,282.1 L393.0,282.1 L393.6,282.1 L394.2,282.1 L394.7,282.0 L395.2,282.0 L395.7,282.0 L396.1,281.9 L396.5,281.9 L397.3,281.8 L398.0,281.6 L398.6,281.4 L399.1,281.1 L399.7,280.8 L400.1,280.5 L400.6,280.2 L401.1,279.9 L401.6,279.6 L402.1,279.3 L402.6,279.0 L403.2,278.8 L403.6,278.6 L404.1,278.5 L404.6,278.3 L405.2,278.1 L405.8,277.9 L406.4,277.7 L407.0,277.5 L407.6,277.3 L408.3,277.1 L409.0,276.9 L409.6,276.7 L410.3,276.5 L410.9,276.3 L411.6,276.1 L412.2,276.0 L412.8,275.8 L413.3,275.7 L413.8,275.6 L414.3,275.5 L414.9,275.4 L415.5,275.3 L416.1,275.3 L416.7,275.2 L417.3,275.2 L418.0,275.1 L418.6,275.1 L419.2,275.1 L419.8,275.1 L420.4,275.2 L421.0,275.2 L421.6,275.2 L422.1,275.3 L422.6,275.4 L423.1,275.5 L423.6,275.7 L424.2,275.9 L424.8,276.2 L425.5,276.5 L426.1,276.9 L426.7,277.3 L427.3,277.7 L427.9,278.0 L428.5,278.4 L429.1,278.7 L429.6,279.0 L430.1,279.2 L430.5,279.4 L431.1,279.5 L431.7,279.5 L432.3,279.4 L432.8,279.2 L433.3,279.1 L433.9,279.0 L434.4,278.9 L435.0,279.0 L435.4,279.1 L435.9,279.3 L436.5,279.6 L437.1,279.9 L437.7,280.2 L438.3,280.6 L438.9,280.9 L439.5,281.2 L440.1,281.5 L440.7,281.8 L441.2,282.0 L441.6,282.1 L442.2,282.2 L442.7,282.3 L443.3,282.3 L443.8,282.3 L444.3,282.2 L444.9,282.0 L445.4,281.8 L446.0,281.6 L446.4,281.4 L446.9,281.0 L447.5,280.6 L448.0,280.2 L448.7,279.7 L449.3,279.2 L449.9,278.7 L450.5,278.2 L451.1,277.8 L451.7,277.5 L452.2,277.2 L452.7,277.1 L453.2,277.1 L453.8,277.2 L454.3,277.3 L454.9,277.6 L455.4,277.9 L456.0,278.2 L456.6,278.6 L457.2,278.9 L457.7,279.2 L458.3,279.4 L458.8,279.6 L459.3,279.8 L459.8,280.0 L460.4,280.2 L461.0,280.5 L461.7,280.7 L462.3,281.0 L462.9,281.2 L463.6,281.4 L464.2,281.5 L464.8,281.6 L465.4,281.6 L466.0,281.6 L466.5,281.5 L467.0,281.3 L467.6,281.0 L468.2,280.7 L468.8,280.3 L469.5,279.9 L470.1,279.5 L470.8,279.1 L471.4,278.7 L472.1,278.3 L472.7,277.9 L473.3,277.6 L473.9,277.4 L474.4,277.2 L474.9,277.1 L475.5,277.1 L476.0,277.2 L476.6,277.4 L477.2,277.7 L477.9,278.0 L478.5,278.4 L479.1,278.7 L479.7,279.1 L480.4,279.5 L480.9,279.8 L481.5,280.1 L482.1,280.3 L482.6,280.5 L483.1,280.6 L483.7,280.7 L484.3,280.9 L485.0,281.0 L485.7,281.0 L486.3,281.1 L487.0,281.2 L487.7,281.2 L488.3,281.2 L488.9,281.2 L489.5,281.2 L490.0,281.1 L490.4,281.0 L491.0,280.7 L491.7,280.4 L492.2,279.9 L492.8,279.3 L493.3,278.7 L493.9,278.1 L494.3,277.6 L494.8,277.1 L495.3,276.5 L495.9,275.8 L496.5,274.9 L497.1,274.2 L497.6,273.5 L498.2,273.0 L498.7,272.7 L499.2,272.7 L499.8,273.0 L500.3,273.4 L500.9,274.0 L501.5,274.5 L502.1,275.1 L502.6,275.5 L503.1,275.9 L503.6,276.3 L504.1,276.8 L504.7,277.3 L505.3,277.8 L505.9,278.2 L506.5,278.6 L507.0,278.8 L507.5,279.0 L508.0,279.1 L508.5,279.2 L509.1,279.4 L509.7,279.4 L510.4,279.5 L511.0,279.5 L511.5,279.4 L512.1,279.2 L512.6,279.0 L513.1,278.6 L513.6,278.1 L514.1,277.5 L514.7,276.8 L515.3,276.0 L515.8,275.2 L516.4,274.4 L517.0,273.6 L517.5,272.9 L518.1,272.2 L518.6,271.7 L519.1,271.1 L519.6,270.5 L520.2,269.9 L520.8,269.2 L521.5,268.5 L522.1,267.9 L522.8,267.2 L523.4,266.6 L524.0,265.9 L524.5,265.4 L525.0,264.9 L525.5,264.4 L526.1,263.8 L526.6,263.2 L527.2,262.6 L527.8,262.0 L528.4,261.4 L529.0,260.8 L529.5,260.3 L530.1,259.9 L530.6,259.6 L531.1,259.4 L531.6,259.4 L532.1,259.5 L532.7,259.7 L533.3,260.0 L533.9,260.4 L534.5,260.7 L535.1,261.0 L535.6,261.3 L536.1,261.5 L536.6,261.6 L537.1,261.5 L537.7,261.4 L538.3,261.1 L538.9,260.8 L539.5,260.4 L540.0,260.1 L540.6,259.7 L541.1,259.4 L541.6,259.1 L542.1,258.7 L542.7,258.3 L543.3,257.8 L543.9,257.3 L544.5,256.9 L545.0,256.5 L545.5,256.3 L546.0,256.1 L546.6,256.1 L547.1,256.2 L547.7,256.4 L548.3,256.7 L548.9,257.0 L549.4,257.4 L549.9,257.7 L550.4,258.2 L551.0,258.8 L551.6,259.5 L552.2,260.1 L552.7,260.7 L553.3,261.1 L553.8,261.3 L554.3,261.4 L554.8,261.4 L555.4,261.4 L556.1,261.5 L556.6,261.5 L557.2,261.5 L557.7,261.6 L558.2,261.7 L558.7,261.9 L559.3,262.1 L559.8,262.4 L560.4,262.6 L561.0,262.9 L561.6,263.1 L562.1,263.3 L562.6,263.4 L563.0,263.6 L563.6,263.7 L564.1,263.9 L564.7,264.0 L565.3,264.2 L565.9,264.3 L566.5,264.5 L567.1,264.8 L567.7,265.0 L568.2,265.2 L568.7,265.5 L569.2,265.9 L569.8,266.3 L570.5,266.7 L571.1,267.1 L571.8,267.5 L572.4,267.9 L573.1,268.3 L573.7,268.7 L574.3,269.0 L574.9,269.2 L575.4,269.4 L575.9,269.5 L576.4,269.6 L577.0,269.6 L577.6,269.6 L578.2,269.6 L578.8,269.5 L579.5,269.5 L580.1,269.4 L580.7,269.4 L581.3,269.3 L581.8,269.3 L582.3,269.3 L582.8,269.3 L583.2,269.4 L583.8,269.6 L584.4,269.8 L584.9,270.1 L585.5,270.5 L586.0,270.9 L586.5,271.3 L587.0,271.7 L587.6,272.2 L588.0,272.6 L588.5,273.0 L589.0,273.5 L589.5,274.1 L590.1,274.7 L590.7,275.3 L591.3,275.9 L591.9,276.5 L592.5,277.0 L593.2,277.5 L593.7,277.9 L594.3,278.2 L594.8,278.4 L595.3,278.6 L595.9,278.7 L596.5,278.9 L597.1,279.0 L597.8,279.1 L598.4,279.2 L599.1,279.3 L599.7,279.4 L600.4,279.4 L601.0,279.4 L601.6,279.5 L602.2,279.5 L602.7,279.4 L603.1,279.4 L603.7,279.2 L604.3,278.9 L604.9,278.5 L605.4,278.1 L606.0,277.6 L606.6,277.2 L607.1,276.8 L607.7,276.6 L608.3,276.5 L608.9,276.6 L609.3,276.8 L609.8,277.2 L610.4,277.8 L610.9,278.4 L611.5,279.1 L612.1,279.9 L612.8,280.7 L613.4,281.5 L614.0,282.2 L614.7,283.0 L615.3,283.6 L616.0,284.1 L616.6,284.6 L617.1,284.8 L617.7,284.9 L618.2,284.8 L618.7,284.6 L619.3,284.2 L619.9,283.7 L620.5,283.1 L621.1,282.5 L621.8,281.8 L622.4,281.1 L623.1,280.3 L623.7,279.6 L624.4,278.8 L625.0,278.1 L625.6,277.5 L626.2,277.0 L626.7,276.5 L627.2,276.2 L627.7,276.0 L628.3,275.9 L628.9,275.9 L629.5,276.1 L630.1,276.3 L630.7,276.7 L631.4,277.1 L632.0,277.5 L632.6,277.9 L633.2,278.4 L633.8,278.9 L634.4,279.3 L634.9,279.7 L635.5,280.0 L636.0,280.3 L636.5,280.5 L637.1,280.8 L637.7,281.1 L638.3,281.4 L639.0,281.8 L639.6,282.1 L640.3,282.5 L640.9,282.8 L641.6,283.1 L642.2,283.5 L642.8,283.9 L643.3,284.2 L643.8,284.6 L644.3,284.9 L644.9,285.4 L645.4,285.9 L646.0,286.6 L646.6,287.2 L647.2,287.9 L647.8,288.6 L648.3,289.3 L648.9,290.0 L649.5,290.6 L650.0,291.2 L650.5,291.7 L651.0,292.1 L651.5,292.4 L651.9,292.8 L652.4,293.1 L652.9,293.3 L653.4,293.6 L653.9,293.8 L654.5,294.0 L655.0,294.2 L655.6,294.4 L656.3,294.5 L656.9,294.6 L657.6,294.7 L658.0,294.7 L658.4,294.8 L658.9,294.8 L659.4,294.8 L660.0,294.8 L660.5,294.8 L661.1,294.8 L661.7,294.8 L662.4,294.8 L663.0,294.8 L663.7,294.8 L664.3,294.7 L665.0,294.7 L665.7,294.6 L666.3,294.6 L667.0,294.5 L667.6,294.4 L668.2,294.4 L668.9,294.3 L669.4,294.2 L670.0,294.1 L670.5,293.9 L671.0,293.8 L671.5,293.6 L672.1,293.4 L672.7,293.1 L673.3,292.8 L673.9,292.4 L674.5,292.0 L675.1,291.6 L675.8,291.2 L676.4,290.8 L677.0,290.4 L677.7,289.9 L678.3,289.5 L678.9,289.1 L679.5,288.7 L680.1,288.3 L680.7,288.0 L681.2,287.7 L681.7,287.5 L682.2,287.3 L682.7,287.2 L683.1,287.1 L683.7,287.1 L684.4,287.3 L685.0,287.6 L685.6,288.0 L686.3,288.4 L686.9,288.9 L687.5,289.5 L688.1,290.0 L688.6,290.6 L689.2,291.1 L689.8,291.5 L690.3,291.9 L690.9,292.1 L691.4,292.2 L691.9,292.4 L692.5,292.5 L693.1,292.6 L693.8,292.6 L694.4,292.7 L695.1,292.7 L695.8,292.7 L696.4,292.7 L697.1,292.7 L697.7,292.7 L698.3,292.7 L698.8,292.7 L699.3,292.7 L699.8,292.7 L700.4,292.7 L700.9,292.6 L701.5,292.6 L702.0,292.5 L702.5,292.4 L703.0,292.3 L703.6,292.2 L704.1,292.1 L704.7,292.0 L705.3,291.9 L706.0,291.9 L706.4,291.9 L706.9,291.9 L707.4,291.9 L708.0,291.8 L708.6,291.8 L709.3,291.8 L710.0,291.8 L710.6,291.8 L711.3,291.8 L712.0,291.8 L712.7,291.8 L713.4,291.8 L714.1,291.8 L714.7,291.8 L715.3,291.8 L715.9,291.9 L716.4,291.9 L716.8,291.9 L717.2,291.9 L718.0,292.0 L718.6,292.1 L719.1,292.2 L719.6,292.4 L720.1,292.5 L720.6,292.6 L721.1,292.7 L721.6,292.7 L722.0,292.7 L722.5,292.6 L723.0,292.6 L723.5,292.5 L724.1,292.5 L724.7,292.4 L725.3,292.3 L725.9,292.2 L726.5,292.0 L727.2,291.9 L727.7,291.8 L728.3,291.6 L728.8,291.4 L729.3,291.3 L729.9,291.0 L730.5,290.8 L731.2,290.5 L731.8,290.2 L732.5,289.9 L733.2,289.6 L733.9,289.3 L734.5,289.0 L735.2,288.8 L735.7,288.6 L736.3,288.4 L736.7,288.3 L737.1,288.2 L737.8,288.3 L738.3,288.7 L738.7,289.2 L739.2,289.7 L739.7,290.0 L740.5,289.9 L740.9,289.7 L741.3,289.5 L741.8,289.2 L742.4,288.8 L743.0,288.4 L743.6,288.0 L744.3,287.5 L745.0,287.0 L745.7,286.5 L746.4,286.0 L747.1,285.5 L747.7,285.0 L748.3,284.6 L748.9,284.2 L749.5,283.8 L750.0,283.5 L750.4,283.3 L751.0,283.0 L751.6,282.8 L752.1,282.7 L752.6,282.7 L753.1,282.6 L753.6,282.6 L754.2,282.6 L754.7,282.5 L755.3,282.4 L756.0,282.2 L756.4,282.1 L756.9,281.9 L757.4,281.7 L758.0,281.5 L758.6,281.3 L759.2,281.0 L759.9,280.8 L760.6,280.5 L761.3,280.2 L762.0,279.9 L762.7,279.6 L763.3,279.4 L764.0,279.1 L764.6,278.8 L765.2,278.6 L765.8,278.3 L766.3,278.1 L766.7,277.9 L767.1,277.7 L767.9,277.3 L768.6,276.8 L769.3,276.3 L769.9,275.8 L770.4,275.4 L770.9,275.0 L771.2,274.6 L771.5,274.4 L771.8,274.6 L772.2,274.8 L772.7,275.1 L773.3,275.5 L773.9,275.9 L774.5,276.3 L775.2,276.7 L775.8,277.0 L776.4,277.4 L777.0,277.7 L777.5,277.9 L778.0,278.2 L778.5,278.5 L779.1,278.8 L779.7,279.1 L780.4,279.4 L781.0,279.7 L781.6,280.0 L782.2,280.3 L782.7,280.5 L783.2,280.8 L783.7,281.0 L784.2,281.2 L784.8,281.4 L785.4,281.6 L785.9,281.8 L786.5,282.0 L787.1,282.2 L787.6,282.5 L788.2,282.7 L788.7,283.0 L789.2,283.3 L789.7,283.7 L790.3,284.2 L790.9,284.8 L791.5,285.4 L792.1,286.1 L792.8,286.8 L793.4,287.4 L793.9,288.0 L794.4,288.4 L794.8,288.8 L795.4,289.3 L796.0,289.6 L796.5,289.8 L797.1,289.9 L797.8,289.9 L798.2,289.8 L798.6,289.7 L799.2,289.5 L799.7,289.3 L800.3,289.1 L801.0,288.8 L801.6,288.5 L802.2,288.3 L802.8,288.1 L803.4,287.9 L803.9,287.8 L804.4,287.7 L804.9,287.7 L805.5,287.8 L806.0,287.9 L806.6,288.0 L807.1,288.2 L807.7,288.4 L808.3,288.5 L808.9,288.7 L809.4,288.8 L810.0,288.8 L810.5,288.8 L811.0,288.8 L811.5,288.7 L812.1,288.6 L812.7,288.5 L813.3,288.4 L813.9,288.3 L814.6,288.2 L815.2,288.1 L815.9,288.0 L816.5,287.9 L817.1,287.8 L817.7,287.7 L818.2,287.6 L818.7,287.5 L819.2,287.4 L819.8,287.3 L820.5,287.2 L821.1,287.1 L821.8,286.9 L822.4,286.8 L823.1,286.7 L823.8,286.5 L824.4,286.4 L825.0,286.3 L825.6,286.2 L826.2,286.1 L826.8,286.1 L827.3,286.0 L827.7,286.0 L828.3,286.0 L829.0,286.1 L829.7,286.2 L830.3,286.4 L831.0,286.6 L831.6,286.7 L832.2,286.9 L832.8,287.1 L833.3,287.2 L833.8,287.2 L834.3,287.2 L834.9,287.0 L835.5,286.7 L836.1,286.3 L836.7,285.9 L837.2,285.4 L837.8,285.0 L838.3,284.6 L838.8,284.4 L839.3,284.2 L839.8,284.1 L840.4,284.1 L840.9,284.0 L841.5,284.0 L842.1,284.0 L842.7,283.9 L843.2,283.8 L843.7,283.7 L844.2,283.5 L844.7,283.2 L845.3,283.0 L845.9,282.7 L846.5,282.5 L847.1,282.3 L847.7,282.2 L848.3,282.1 L848.8,282.2 L849.3,282.4 L849.8,282.6 L850.4,283.0 L851.0,283.4 L851.6,283.9 L852.2,284.3 L852.8,284.8 L853.4,285.3 L854.0,285.7 L854.5,286.1 L855.0,286.4 L855.4,286.6 L856.0,286.8 L856.6,286.9 L857.0,286.9 L857.5,286.7 L858.1,286.4 L858.7,286.0 L859.1,285.7 L859.6,285.3 L860.1,284.8 L860.7,284.3 L861.4,283.7 L862.0,283.1 L862.7,282.5 L863.3,281.9 L863.9,281.3 L864.5,280.8 L865.0,280.4 L865.4,280.0 L866.0,279.5 L866.6,278.9 L867.2,278.5 L867.7,278.0 L868.2,277.6 L868.8,277.4 L869.3,277.2 L869.8,277.2 L870.3,277.2 L870.8,277.3 L871.4,277.5 L872.0,277.6 L872.6,277.8 L873.2,278.0 L873.8,278.2 L874.3,278.3 L874.8,278.4 L875.3,278.6 L875.8,278.8 L876.4,279.0 L877.0,279.1 L877.5,279.3 L878.1,279.4 L878.7,279.5 L879.3,279.5 L879.8,279.4 L880.3,279.2 L880.8,278.9 L881.3,278.6 L881.9,278.1 L882.5,277.6 L883.1,277.1 L883.8,276.7 L884.4,276.2 L885.0,275.8 L885.6,275.4 L886.1,275.2 L886.6,275.1 L887.1,275.1 L887.6,275.3 L888.2,275.5 L888.7,275.8 L889.3,276.1 L889.9,276.5 L890.5,276.9 L891.1,277.3 L891.6,277.6 L892.2,277.9 L892.7,278.1 L893.2,278.2 L893.7,278.2 L894.2,278.2 L894.7,278.2 L895.2,278.1 L895.8,278.0 L896.4,277.8 L896.9,277.7 L897.5,277.5 L898.1,277.3 L898.7,277.1 L899.3,276.8 L899.9,276.6 L900.3,276.4 L900.8,276.2 L901.4,275.9 L902.0,275.6 L902.6,275.2 L903.2,274.8 L903.9,274.4 L904.6,274.1 L905.2,273.7 L905.9,273.3 L906.6,272.9 L907.2,272.6 L907.8,272.3 L908.4,272.1 L909.0,271.8 L909.5,271.7 L909.9,271.6 L910.5,271.6 L911.1,271.6 L911.6,271.8 L912.2,271.9 L912.7,272.2 L913.3,272.5 L913.8,272.8 L914.3,273.1 L914.9,273.5 L915.4,273.8 L916.0,274.1 L916.5,274.4 L917.0,274.7 L917.5,275.0 L918.1,275.4 L918.7,275.8 L919.3,276.2 L919.9,276.7 L920.6,277.2 L921.3,277.6 L921.9,278.1 L922.6,278.4 L923.2,278.8 L923.8,279.0 L924.4,279.2 L924.9,279.3 L925.4,279.3 L926.0,279.1 L926.6,278.7 L927.3,278.1 L928.0,277.4 L928.7,276.6 L929.4,275.7 L930.1,274.8 L930.7,274.0 L931.3,273.2 L931.8,272.5 L932.2,272.0 L932.5,271.6" fill="none" stroke="#e5007d" stroke-width="3.3" stroke-linejoin="round" stroke-linecap="butt"/>
<path d="M605.0,278.4 L605.4,278.1 L606.0,277.6 L606.6,277.2 L607.1,276.8 L607.7,276.6 L608.3,276.5 L608.9,276.6 L609.3,276.8 L609.8,277.2 L610.4,277.8 L610.9,278.4 L611.5,279.1 L612.1,279.9 L612.8,280.7 L613.4,281.5 L614.0,282.2 L614.7,283.0 L615.3,283.6 L616.0,284.1 L616.6,284.6 L617.1,284.8 L617.7,284.9 L618.2,284.8 L618.7,284.6 L619.3,284.2 L619.9,283.7 L620.5,283.1 L621.1,282.5 L621.8,281.8 L622.4,281.1 L623.1,280.3 L623.7,279.6 L624.4,278.8 L625.0,278.1 L625.6,277.5 L626.2,277.0 L626.7,276.5 L627.2,276.2 L627.7,276.0 L628.3,275.9 L628.9,275.9 L629.5,276.1 L630.1,276.3 L630.7,276.7 L631.4,277.1 L632.0,277.5 L632.6,277.9 L633.2,278.4 L633.8,278.9 L634.4,279.3 L634.9,279.7 L635.5,280.0 L636.0,280.3 L636.5,280.5 L637.1,280.8 L637.7,281.1 L638.3,281.4 L639.0,281.8 L639.6,282.1 L640.3,282.5 L640.9,282.8 L641.6,283.1 L642.2,283.5 L642.8,283.9 L643.3,284.2 L643.8,284.6 L644.0,284.7" fill="none" stroke="#e5007d" stroke-width="4.8" stroke-linejoin="round"/>
<path d="M605.0,278.4 L605.4,278.1 L606.0,277.6 L606.6,277.2 L607.1,276.8 L607.7,276.6 L608.3,276.5 L608.9,276.6 L609.3,276.8 L609.8,277.2 L610.4,277.8 L610.9,278.4 L611.5,279.1 L612.1,279.9 L612.8,280.7 L613.4,281.5 L614.0,282.2 L614.7,283.0 L615.3,283.6 L616.0,284.1 L616.6,284.6 L617.1,284.8 L617.7,284.9 L618.2,284.8 L618.7,284.6 L619.3,284.2 L619.9,283.7 L620.5,283.1 L621.1,282.5 L621.8,281.8 L622.4,281.1 L623.1,280.3 L623.7,279.6 L624.4,278.8 L625.0,278.1 L625.6,277.5 L626.2,277.0 L626.7,276.5 L627.2,276.2 L627.7,276.0 L628.3,275.9 L628.9,275.9 L629.5,276.1 L630.1,276.3 L630.7,276.7 L631.4,277.1 L632.0,277.5 L632.6,277.9 L633.2,278.4 L633.8,278.9 L634.4,279.3 L634.9,279.7 L635.5,280.0 L636.0,280.3 L636.5,280.5 L637.1,280.8 L637.7,281.1 L638.3,281.4 L639.0,281.8 L639.6,282.1 L640.3,282.5 L640.9,282.8 L641.6,283.1 L642.2,283.5 L642.8,283.9 L643.3,284.2 L643.8,284.6 L644.0,284.7" fill="none" stroke="#fff" stroke-width="1.7" stroke-linejoin="round"/>
<path d="M673.0,292.9 L673.3,292.8 L673.9,292.4 L674.5,292.0 L675.1,291.6 L675.8,291.2 L676.4,290.8 L677.0,290.4 L677.7,289.9 L678.3,289.5 L678.9,289.1 L679.5,288.7 L680.1,288.3 L680.7,288.0 L681.2,287.7 L681.7,287.5 L682.2,287.3 L682.7,287.2 L683.1,287.1 L683.7,287.1 L684.4,287.3 L685.0,287.6 L685.6,288.0 L686.3,288.4 L686.9,288.9 L687.5,289.5 L688.1,290.0 L688.6,290.6 L689.2,291.1 L689.8,291.5 L690.3,291.9 L690.9,292.1 L691.4,292.2 L691.9,292.4 L692.5,292.5 L693.1,292.6 L693.8,292.6 L694.4,292.7 L695.1,292.7 L695.8,292.7 L696.4,292.7 L697.1,292.7 L697.7,292.7 L698.3,292.7 L698.8,292.7 L699.3,292.7 L699.8,292.7 L700.4,292.7 L700.9,292.6 L701.5,292.6 L702.0,292.5 L702.5,292.4 L703.0,292.3 L703.6,292.2 L704.1,292.1 L704.7,292.0 L705.3,291.9 L706.0,291.9 L706.4,291.9 L706.9,291.9 L707.4,291.9 L708.0,291.8 L708.6,291.8 L709.3,291.8 L710.0,291.8 L710.6,291.8 L711.3,291.8 L712.0,291.8 L712.7,291.8 L713.4,291.8 L714.1,291.8 L714.7,291.8 L715.3,291.8 L715.9,291.9 L716.4,291.9 L716.5,291.9" fill="none" stroke="#e5007d" stroke-width="4.8" stroke-linejoin="round"/>
<path d="M673.0,292.9 L673.3,292.8 L673.9,292.4 L674.5,292.0 L675.1,291.6 L675.8,291.2 L676.4,290.8 L677.0,290.4 L677.7,289.9 L678.3,289.5 L678.9,289.1 L679.5,288.7 L680.1,288.3 L680.7,288.0 L681.2,287.7 L681.7,287.5 L682.2,287.3 L682.7,287.2 L683.1,287.1 L683.7,287.1 L684.4,287.3 L685.0,287.6 L685.6,288.0 L686.3,288.4 L686.9,288.9 L687.5,289.5 L688.1,290.0 L688.6,290.6 L689.2,291.1 L689.8,291.5 L690.3,291.9 L690.9,292.1 L691.4,292.2 L691.9,292.4 L692.5,292.5 L693.1,292.6 L693.8,292.6 L694.4,292.7 L695.1,292.7 L695.8,292.7 L696.4,292.7 L697.1,292.7 L697.7,292.7 L698.3,292.7 L698.8,292.7 L699.3,292.7 L699.8,292.7 L700.4,292.7 L700.9,292.6 L701.5,292.6 L702.0,292.5 L702.5,292.4 L703.0,292.3 L703.6,292.2 L704.1,292.1 L704.7,292.0 L705.3,291.9 L706.0,291.9 L706.4,291.9 L706.9,291.9 L707.4,291.9 L708.0,291.8 L708.6,291.8 L709.3,291.8 L710.0,291.8 L710.6,291.8 L711.3,291.8 L712.0,291.8 L712.7,291.8 L713.4,291.8 L714.1,291.8 L714.7,291.8 L715.3,291.8 L715.9,291.9 L716.4,291.9 L716.5,291.9" fill="none" stroke="#fff" stroke-width="1.7" stroke-linejoin="round"/>
<path d="M726.0,292.1 L726.5,292.0 L727.2,291.9 L727.7,291.8 L728.3,291.6 L728.8,291.4 L729.3,291.3 L729.9,291.0 L730.5,290.8 L731.2,290.5 L731.8,290.2 L732.5,289.9 L733.2,289.6 L733.9,289.3 L734.5,289.0 L735.2,288.8 L735.7,288.6 L736.3,288.4 L736.7,288.3 L737.1,288.2 L737.8,288.3 L738.3,288.7 L738.7,289.2 L739.2,289.7 L739.7,290.0 L740.5,289.9 L740.9,289.7 L741.3,289.5 L741.8,289.2 L742.4,288.8 L743.0,288.4 L743.6,288.0 L744.3,287.5 L745.0,287.0 L745.7,286.5 L746.4,286.0 L747.1,285.5 L747.7,285.0 L748.3,284.6 L748.9,284.2 L749.5,283.8 L750.0,283.5 L750.4,283.3 L751.0,283.0 L751.6,282.8 L752.1,282.7 L752.6,282.7 L753.1,282.6 L753.6,282.6 L754.2,282.6 L754.7,282.5 L755.3,282.4 L756.0,282.2 L756.4,282.1 L756.9,281.9 L757.4,281.7 L758.0,281.5 L758.6,281.3 L759.2,281.0 L759.9,280.8 L760.6,280.5 L761.3,280.2 L762.0,279.9 L762.7,279.6 L763.3,279.4 L764.0,279.1 L764.6,278.8 L765.2,278.6 L765.8,278.3 L766.3,278.1 L766.7,277.9 L767.1,277.7 L767.9,277.3 L768.6,276.8 L769.3,276.3 L769.9,275.8 L770.4,275.4 L770.9,275.0 L771.2,274.6 L771.5,274.4" fill="none" stroke="#e5007d" stroke-width="4.8" stroke-linejoin="round"/>
<path d="M726.0,292.1 L726.5,292.0 L727.2,291.9 L727.7,291.8 L728.3,291.6 L728.8,291.4 L729.3,291.3 L729.9,291.0 L730.5,290.8 L731.2,290.5 L731.8,290.2 L732.5,289.9 L733.2,289.6 L733.9,289.3 L734.5,289.0 L735.2,288.8 L735.7,288.6 L736.3,288.4 L736.7,288.3 L737.1,288.2 L737.8,288.3 L738.3,288.7 L738.7,289.2 L739.2,289.7 L739.7,290.0 L740.5,289.9 L740.9,289.7 L741.3,289.5 L741.8,289.2 L742.4,288.8 L743.0,288.4 L743.6,288.0 L744.3,287.5 L745.0,287.0 L745.7,286.5 L746.4,286.0 L747.1,285.5 L747.7,285.0 L748.3,284.6 L748.9,284.2 L749.5,283.8 L750.0,283.5 L750.4,283.3 L751.0,283.0 L751.6,282.8 L752.1,282.7 L752.6,282.7 L753.1,282.6 L753.6,282.6 L754.2,282.6 L754.7,282.5 L755.3,282.4 L756.0,282.2 L756.4,282.1 L756.9,281.9 L757.4,281.7 L758.0,281.5 L758.6,281.3 L759.2,281.0 L759.9,280.8 L760.6,280.5 L761.3,280.2 L762.0,279.9 L762.7,279.6 L763.3,279.4 L764.0,279.1 L764.6,278.8 L765.2,278.6 L765.8,278.3 L766.3,278.1 L766.7,277.9 L767.1,277.7 L767.9,277.3 L768.6,276.8 L769.3,276.3 L769.9,275.8 L770.4,275.4 L770.9,275.0 L771.2,274.6 L771.5,274.4" fill="none" stroke="#fff" stroke-width="1.7" stroke-linejoin="round"/>
<path d="M836.0,286.4 L836.1,286.3 L836.7,285.9 L837.2,285.4 L837.8,285.0 L838.3,284.6 L838.8,284.4 L839.3,284.2 L839.6,284.2" fill="none" stroke="#e5007d" stroke-width="4.8" stroke-linejoin="round"/>
<path d="M836.0,286.4 L836.1,286.3 L836.7,285.9 L837.2,285.4 L837.8,285.0 L838.3,284.6 L838.8,284.4 L839.3,284.2 L839.6,284.2" fill="none" stroke="#fff" stroke-width="1.7" stroke-linejoin="round"/>
<path d="M858.4,286.2 L858.7,286.0 L859.1,285.7 L859.6,285.3 L860.1,284.8 L860.7,284.3 L861.4,283.7 L862.0,283.1 L862.7,282.5 L863.3,281.9 L863.9,281.3 L864.5,280.8 L865.0,280.4 L865.4,280.0 L866.0,279.5 L866.6,278.9 L867.2,278.5 L867.7,278.0 L868.2,277.6 L868.8,277.4 L869.2,277.2" fill="none" stroke="#e5007d" stroke-width="4.8" stroke-linejoin="round"/>
<path d="M858.4,286.2 L858.7,286.0 L859.1,285.7 L859.6,285.3 L860.1,284.8 L860.7,284.3 L861.4,283.7 L862.0,283.1 L862.7,282.5 L863.3,281.9 L863.9,281.3 L864.5,280.8 L865.0,280.4 L865.4,280.0 L866.0,279.5 L866.6,278.9 L867.2,278.5 L867.7,278.0 L868.2,277.6 L868.8,277.4 L869.2,277.2" fill="none" stroke="#fff" stroke-width="1.7" stroke-linejoin="round"/>
<line x1="47" x2="932.5" y1="360.8" y2="360.8" stroke="#000" stroke-width="1.8"/>
<line x1="46.9" x2="46.9" y1="13" y2="386.5" stroke="#000" stroke-width="2"/>
<line x1="932.5" x2="932.5" y1="22.8" y2="386" stroke="#000" stroke-width="1.6"/>
<circle cx="306.5" cy="235" r="3.6" fill="#000" stroke="#fff" stroke-width="1.2"/>
<circle cx="771.5" cy="274.4" r="3.6" fill="#000" stroke="#fff" stroke-width="1.2"/>
<text x="0" y="266.6" font-size="9.6" fill="#555" text-anchor="middle" transform="translate(304.8 0) scale(0.82 1)">400</text>
<text x="0" y="291.0" font-size="9.6" fill="#555" text-anchor="middle" transform="translate(304.8 0) scale(0.82 1)">200</text>
<text x="0" y="315.6" font-size="9.6" fill="#555" text-anchor="middle" transform="translate(304.8 0) scale(0.82 1)">0</text>
<text transform="translate(77.0 233.2) rotate(-90) scale(0.6618 1)" font-size="15" fill="#1a1a1a" text-anchor="start" stroke="#1a1a1a" stroke-width="0.35">412 - Mocaiana</text>
<text transform="translate(124.9 246.0) rotate(-90) scale(0.6586 1)" font-size="15" fill="#1a1a1a" text-anchor="start" stroke="#1a1a1a" stroke-width="0.35">314 - Staz. di Camporeggiano</text>
<text transform="translate(162.3 254.4) rotate(-90) scale(0.6627 1)" font-size="15" fill="#1a1a1a" text-anchor="start" stroke="#1a1a1a" stroke-width="0.35">239 - Ins. Strada Tiberina Nord</text>
<text transform="translate(182.8 254.4) rotate(-90) scale(0.6771 1)" font-size="15" fill="#1a1a1a" text-anchor="start" stroke="#1a1a1a" stroke-width="0.35">247 - Umbertide</text>
<text transform="translate(199.9 254.4) rotate(-90) scale(0.6844 1)" font-size="15" fill="#1a1a1a" text-anchor="start" stroke="#1a1a1a" stroke-width="0.35">248 - Niccone</text>
<text transform="translate(228.6 249.0) rotate(-90) scale(0.6551 1)" font-size="15" fill="#1a1a1a" text-anchor="start" stroke="#1a1a1a" stroke-width="0.35">282 - Spedalicchio</text>
<text transform="translate(283.6 247.8) rotate(-90) scale(0.6843 1)" font-size="15" fill="#1a1a1a" text-anchor="start" stroke="#1a1a1a" stroke-width="0.35">302 - Mercatale</text>
<text transform="translate(311.9 205.7) rotate(-90) scale(0.6862 1)" font-size="15.2" font-weight="bold" fill="#000" text-anchor="start" stroke="#000" stroke-width="0.55">640 - LA CIMA</text>
<text transform="translate(348.8 250.4) rotate(-90) scale(0.6466 1)" font-size="15" fill="#1a1a1a" text-anchor="start" stroke="#1a1a1a" stroke-width="0.35">280 - La Dogana</text>
<text transform="translate(376.9 251.0) rotate(-90) scale(0.649 1)" font-size="15" fill="#1a1a1a" text-anchor="start" stroke="#1a1a1a" stroke-width="0.35">269 - Camucia</text>
<text transform="translate(431.0 246.8) rotate(-90) scale(0.6475 1)" font-size="15" fill="#1a1a1a" text-anchor="start" stroke="#1a1a1a" stroke-width="0.35">306 - Farneta</text>
<text transform="translate(459.8 246.8) rotate(-90) scale(0.6456 1)" font-size="15" fill="#1a1a1a" text-anchor="start" stroke="#1a1a1a" stroke-width="0.35">302 - Foiano della Chiana</text>
<text transform="translate(499.9 250.8) rotate(-90) scale(0.6464 1)" font-size="15" fill="#1a1a1a" text-anchor="start" stroke="#1a1a1a" stroke-width="0.35">270 - Sinalunga</text>
<text transform="translate(545.9 230.5) rotate(-90) scale(0.6333 1)" font-size="15" fill="#1a1a1a" text-anchor="start" stroke="#1a1a1a" stroke-width="0.35">435 - Trequanda</text>
<text transform="translate(567.1 235.4) rotate(-90) scale(0.7006 1)" font-size="15" fill="#1a1a1a" text-anchor="start" stroke="#1a1a1a" stroke-width="0.35">402 - Montisi</text>
<text transform="translate(601.4 250.0) rotate(-90) scale(0.6553 1)" font-size="15" fill="#1a1a1a" text-anchor="start" stroke="#1a1a1a" stroke-width="0.35">275 - San Giovanni d'Asso</text>
<text transform="translate(640.8 251.7) rotate(-90) scale(0.662 1)" font-size="15" fill="#1a1a1a" text-anchor="start" stroke="#1a1a1a" stroke-width="0.35">270 - Loc. Pieve a Salti</text>
<text transform="translate(660.8 266.3) rotate(-90) scale(0.672 1)" font-size="15" fill="#1a1a1a" text-anchor="start" stroke="#1a1a1a" stroke-width="0.35">146 - Buonconvento</text>
<text transform="translate(723.2 263.9) rotate(-90) scale(0.6735 1)" font-size="15" fill="#1a1a1a" text-anchor="start" stroke="#1a1a1a" stroke-width="0.35">165 - Bv. per Monteroni d'Arbia</text>
<text transform="translate(756.8 251.7) rotate(-90) scale(0.6625 1)" font-size="15" fill="#1a1a1a" text-anchor="start" stroke="#1a1a1a" stroke-width="0.35">261 - Loc. San Martino in Grania</text>
<text transform="translate(776.9 243.2) rotate(-90) scale(0.6765 1)" font-size="15.2" font-weight="bold" fill="#000" text-anchor="start" stroke="#000" stroke-width="0.55">338 - SAN MARTINO IN GRANIA</text>
<text transform="translate(814.9 261.0) rotate(-90) scale(0.6667 1)" font-size="15" fill="#1a1a1a" text-anchor="start" stroke="#1a1a1a" stroke-width="0.35">190 - Arbia</text>
<text transform="translate(837.0 255.2) rotate(-90) scale(0.6727 1)" font-size="15" fill="#1a1a1a" text-anchor="start" stroke="#1a1a1a" stroke-width="0.35">230 - Monteaperti</text>
<text transform="translate(874.7 246.5) rotate(-90) scale(0.645 1)" font-size="15" fill="#1a1a1a" text-anchor="start" stroke="#1a1a1a" stroke-width="0.35">304 - Colle Pinzuto</text>
<text transform="translate(909.0 246.5) rotate(-90) scale(0.6604 1)" font-size="15" fill="#1a1a1a" text-anchor="start" stroke="#1a1a1a" stroke-width="0.35">330 - Univ. Siena</text>
<text transform="translate(52.3 390.1) rotate(-90) scale(0.6579 1)" font-size="15.2" font-weight="bold" fill="#000" text-anchor="end" stroke="#000" stroke-width="0.55">0.0</text>
<line x1="71.6" x2="71.6" y1="360.8" y2="385.5" stroke="#444" stroke-width="1"/>
<text transform="translate(77.0 390.1) rotate(-90) scale(0.64 1)" font-size="15" fill="#1a1a1a" text-anchor="end" stroke="#1a1a1a" stroke-width="0.35">4.9</text>
<line x1="119.5" x2="119.5" y1="360.8" y2="385.5" stroke="#444" stroke-width="1"/>
<text transform="translate(124.9 390.1) rotate(-90) scale(0.64 1)" font-size="15" fill="#1a1a1a" text-anchor="end" stroke="#1a1a1a" stroke-width="0.35">14.6</text>
<line x1="156.9" x2="156.9" y1="360.8" y2="385.5" stroke="#444" stroke-width="1"/>
<text transform="translate(162.3 390.1) rotate(-90) scale(0.64 1)" font-size="15" fill="#1a1a1a" text-anchor="end" stroke="#1a1a1a" stroke-width="0.35">22.2</text>
<line x1="177.4" x2="177.4" y1="360.8" y2="385.5" stroke="#444" stroke-width="1"/>
<text transform="translate(182.8 390.1) rotate(-90) scale(0.64 1)" font-size="15" fill="#1a1a1a" text-anchor="end" stroke="#1a1a1a" stroke-width="0.35">26.4</text>
<line x1="194.5" x2="194.5" y1="360.8" y2="385.5" stroke="#444" stroke-width="1"/>
<text transform="translate(199.9 390.1) rotate(-90) scale(0.64 1)" font-size="15" fill="#1a1a1a" text-anchor="end" stroke="#1a1a1a" stroke-width="0.35">29.9</text>
<line x1="223.2" x2="223.2" y1="360.8" y2="385.5" stroke="#444" stroke-width="1"/>
<text transform="translate(228.6 390.1) rotate(-90) scale(0.64 1)" font-size="15" fill="#1a1a1a" text-anchor="end" stroke="#1a1a1a" stroke-width="0.35">35.7</text>
<line x1="278.2" x2="278.2" y1="360.8" y2="385.5" stroke="#444" stroke-width="1"/>
<text transform="translate(283.6 390.1) rotate(-90) scale(0.64 1)" font-size="15" fill="#1a1a1a" text-anchor="end" stroke="#1a1a1a" stroke-width="0.35">46.8</text>
<line x1="306.5" x2="306.5" y1="360.8" y2="385.5" stroke="#444" stroke-width="1"/>
<text transform="translate(311.9 390.1) rotate(-90) scale(0.6579 1)" font-size="15.2" font-weight="bold" fill="#000" text-anchor="end" stroke="#000" stroke-width="0.55">52.6</text>
<line x1="343.4" x2="343.4" y1="360.8" y2="385.5" stroke="#444" stroke-width="1"/>
<text transform="translate(348.8 390.1) rotate(-90) scale(0.64 1)" font-size="15" fill="#1a1a1a" text-anchor="end" stroke="#1a1a1a" stroke-width="0.35">60.1</text>
<line x1="371.5" x2="371.5" y1="360.8" y2="385.5" stroke="#444" stroke-width="1"/>
<text transform="translate(376.9 390.1) rotate(-90) scale(0.64 1)" font-size="15" fill="#1a1a1a" text-anchor="end" stroke="#1a1a1a" stroke-width="0.35">65.9</text>
<line x1="425.6" x2="425.6" y1="360.8" y2="385.5" stroke="#444" stroke-width="1"/>
<text transform="translate(431.0 390.1) rotate(-90) scale(0.64 1)" font-size="15" fill="#1a1a1a" text-anchor="end" stroke="#1a1a1a" stroke-width="0.35">76.9</text>
<line x1="454.4" x2="454.4" y1="360.8" y2="385.5" stroke="#444" stroke-width="1"/>
<text transform="translate(459.8 390.1) rotate(-90) scale(0.64 1)" font-size="15" fill="#1a1a1a" text-anchor="end" stroke="#1a1a1a" stroke-width="0.35">82.6</text>
<line x1="494.5" x2="494.5" y1="360.8" y2="385.5" stroke="#444" stroke-width="1"/>
<text transform="translate(499.9 390.1) rotate(-90) scale(0.64 1)" font-size="15" fill="#1a1a1a" text-anchor="end" stroke="#1a1a1a" stroke-width="0.35">90.8</text>
<line x1="540.5" x2="540.5" y1="360.8" y2="385.5" stroke="#444" stroke-width="1"/>
<text transform="translate(545.9 390.1) rotate(-90) scale(0.64 1)" font-size="15" fill="#1a1a1a" text-anchor="end" stroke="#1a1a1a" stroke-width="0.35">100.1</text>
<line x1="561.7" x2="561.7" y1="360.8" y2="385.5" stroke="#444" stroke-width="1"/>
<text transform="translate(567.1 390.1) rotate(-90) scale(0.64 1)" font-size="15" fill="#1a1a1a" text-anchor="end" stroke="#1a1a1a" stroke-width="0.35">104.5</text>
<line x1="596.0" x2="596.0" y1="360.8" y2="385.5" stroke="#444" stroke-width="1"/>
<text transform="translate(601.4 390.1) rotate(-90) scale(0.64 1)" font-size="15" fill="#1a1a1a" text-anchor="end" stroke="#1a1a1a" stroke-width="0.35">111.4</text>
<line x1="635.4" x2="635.4" y1="360.8" y2="385.5" stroke="#444" stroke-width="1"/>
<text transform="translate(640.8 390.1) rotate(-90) scale(0.64 1)" font-size="15" fill="#1a1a1a" text-anchor="end" stroke="#1a1a1a" stroke-width="0.35">119.4</text>
<line x1="655.4" x2="655.4" y1="360.8" y2="385.5" stroke="#444" stroke-width="1"/>
<text transform="translate(660.8 390.1) rotate(-90) scale(0.64 1)" font-size="15" fill="#1a1a1a" text-anchor="end" stroke="#1a1a1a" stroke-width="0.35">123.5</text>
<line x1="717.8" x2="717.8" y1="360.8" y2="385.5" stroke="#444" stroke-width="1"/>
<text transform="translate(723.2 390.1) rotate(-90) scale(0.64 1)" font-size="15" fill="#1a1a1a" text-anchor="end" stroke="#1a1a1a" stroke-width="0.35">136.2</text>
<line x1="751.4" x2="751.4" y1="360.8" y2="385.5" stroke="#444" stroke-width="1"/>
<text transform="translate(756.8 390.1) rotate(-90) scale(0.64 1)" font-size="15" fill="#1a1a1a" text-anchor="end" stroke="#1a1a1a" stroke-width="0.35">143.0</text>
<line x1="771.5" x2="771.5" y1="360.8" y2="385.5" stroke="#444" stroke-width="1"/>
<text transform="translate(776.9 390.1) rotate(-90) scale(0.6579 1)" font-size="15.2" font-weight="bold" fill="#000" text-anchor="end" stroke="#000" stroke-width="0.55">147.1</text>
<line x1="809.5" x2="809.5" y1="360.8" y2="385.5" stroke="#444" stroke-width="1"/>
<text transform="translate(814.9 390.1) rotate(-90) scale(0.64 1)" font-size="15" fill="#1a1a1a" text-anchor="end" stroke="#1a1a1a" stroke-width="0.35">154.8</text>
<line x1="831.6" x2="831.6" y1="360.8" y2="385.5" stroke="#444" stroke-width="1"/>
<text transform="translate(837.0 390.1) rotate(-90) scale(0.64 1)" font-size="15" fill="#1a1a1a" text-anchor="end" stroke="#1a1a1a" stroke-width="0.35">159.3</text>
<line x1="869.3" x2="869.3" y1="360.8" y2="385.5" stroke="#444" stroke-width="1"/>
<text transform="translate(874.7 390.1) rotate(-90) scale(0.64 1)" font-size="15" fill="#1a1a1a" text-anchor="end" stroke="#1a1a1a" stroke-width="0.35">167.0</text>
<line x1="903.6" x2="903.6" y1="360.8" y2="385.5" stroke="#444" stroke-width="1"/>
<text transform="translate(909.0 390.1) rotate(-90) scale(0.64 1)" font-size="15" fill="#1a1a1a" text-anchor="end" stroke="#1a1a1a" stroke-width="0.35">173.2</text>
<text transform="translate(937.8 390.1) rotate(-90) scale(0.6579 1)" font-size="15.2" font-weight="bold" fill="#000" text-anchor="end" stroke="#000" stroke-width="0.55">181.0</text>
<text transform="translate(43.6 371.2) scale(0.76 1)" font-size="10.2" fill="#111" stroke="#111" stroke-width="0.2" text-anchor="middle">0</text>
<text transform="translate(97.4 371.2) scale(0.76 1)" font-size="10.2" fill="#111" stroke="#111" stroke-width="0.2" text-anchor="middle">10</text>
<text transform="translate(146.6 371.2) scale(0.76 1)" font-size="10.2" fill="#111" stroke="#111" stroke-width="0.2" text-anchor="middle">20</text>
<text transform="translate(195.7 371.2) scale(0.76 1)" font-size="10.2" fill="#111" stroke="#111" stroke-width="0.2" text-anchor="middle">30</text>
<text transform="translate(244.9 371.2) scale(0.76 1)" font-size="10.2" fill="#111" stroke="#111" stroke-width="0.2" text-anchor="middle">40</text>
<text transform="translate(294.0 371.2) scale(0.76 1)" font-size="10.2" fill="#111" stroke="#111" stroke-width="0.2" text-anchor="middle">50</text>
<text transform="translate(343.2 371.2) scale(0.76 1)" font-size="10.2" fill="#111" stroke="#111" stroke-width="0.2" text-anchor="middle">60</text>
<text transform="translate(392.4 371.2) scale(0.76 1)" font-size="10.2" fill="#111" stroke="#111" stroke-width="0.2" text-anchor="middle">70</text>
<text transform="translate(441.5 371.2) scale(0.76 1)" font-size="10.2" fill="#111" stroke="#111" stroke-width="0.2" text-anchor="middle">80</text>
<text transform="translate(490.7 371.2) scale(0.76 1)" font-size="10.2" fill="#111" stroke="#111" stroke-width="0.2" text-anchor="middle">90</text>
<text transform="translate(539.8 371.2) scale(0.76 1)" font-size="10.2" fill="#111" stroke="#111" stroke-width="0.2" text-anchor="middle">100</text>
<text transform="translate(589.0 371.2) scale(0.76 1)" font-size="10.2" fill="#111" stroke="#111" stroke-width="0.2" text-anchor="middle">110</text>
<text transform="translate(638.2 371.2) scale(0.76 1)" font-size="10.2" fill="#111" stroke="#111" stroke-width="0.2" text-anchor="middle">120</text>
<text transform="translate(687.3 371.2) scale(0.76 1)" font-size="10.2" fill="#111" stroke="#111" stroke-width="0.2" text-anchor="middle">130</text>
<text transform="translate(736.5 371.2) scale(0.76 1)" font-size="10.2" fill="#111" stroke="#111" stroke-width="0.2" text-anchor="middle">140</text>
<text transform="translate(785.6 371.2) scale(0.76 1)" font-size="10.2" fill="#111" stroke="#111" stroke-width="0.2" text-anchor="middle">150</text>
<text transform="translate(834.8 371.2) scale(0.76 1)" font-size="10.2" fill="#111" stroke="#111" stroke-width="0.2" text-anchor="middle">160</text>
<text transform="translate(884.0 371.2) scale(0.76 1)" font-size="10.2" fill="#111" stroke="#111" stroke-width="0.2" text-anchor="middle">170</text>
<line x1="46.9" x2="46.9" y1="355" y2="386.5" stroke="#000" stroke-width="2"/>
<path d="M46.7,424 V435.2 H932 V424.5" fill="none" stroke="#9a9a9a" stroke-width="1.5"/>
<line x1="238" x2="238" y1="424.3" y2="435.2" stroke="#9a9a9a" stroke-width="1.5"/>
<line x1="468.5" x2="468.5" y1="424.3" y2="435.2" stroke="#9a9a9a" stroke-width="1.5"/>
<text transform="translate(143.1 430.8) scale(0.63 1)" font-size="14.3" fill="#8f8f8f" stroke="#8f8f8f" stroke-width="0.5" text-anchor="middle">PG</text>
<text transform="translate(353.3 430.8) scale(0.63 1)" font-size="14.3" fill="#8f8f8f" stroke="#8f8f8f" stroke-width="0.5" text-anchor="middle">AR</text>
<text transform="translate(700.4 430.8) scale(0.63 1)" font-size="14.3" fill="#8f8f8f" stroke="#8f8f8f" stroke-width="0.5" text-anchor="middle">SI</text>
<text x="617.8" y="331.7" font-size="14.2" font-weight="bold" fill="#111" textLength="12.8" lengthAdjust="spacingAndGlyphs" stroke="#fff" stroke-width="3" paint-order="stroke" stroke-linejoin="round">S.1</text>
<text x="617.8" y="331.7" font-size="14.2" font-weight="bold" fill="#111" textLength="12.8" lengthAdjust="spacingAndGlyphs" stroke="#111" stroke-width="0.6">S.1</text>
<text x="610.8" y="346.5" font-size="14.2" font-weight="bold" fill="#111" textLength="28.4" lengthAdjust="spacingAndGlyphs" stroke="#fff" stroke-width="3" paint-order="stroke" stroke-linejoin="round">8.0 km</text>
<text x="610.8" y="346.5" font-size="14.2" font-weight="bold" fill="#111" textLength="28.4" lengthAdjust="spacingAndGlyphs" stroke="#111" stroke-width="0.6">8.0 km</text>
<text x="687.4" y="331.5" font-size="14.2" font-weight="bold" fill="#111" textLength="13.8" lengthAdjust="spacingAndGlyphs" stroke="#fff" stroke-width="3" paint-order="stroke" stroke-linejoin="round">S.2</text>
<text x="687.4" y="331.5" font-size="14.2" font-weight="bold" fill="#111" textLength="13.8" lengthAdjust="spacingAndGlyphs" stroke="#111" stroke-width="0.6">S.2</text>
<text x="679.4" y="346.5" font-size="14.2" font-weight="bold" fill="#111" textLength="29.3" lengthAdjust="spacingAndGlyphs" stroke="#fff" stroke-width="3" paint-order="stroke" stroke-linejoin="round">9.3 km</text>
<text x="679.4" y="346.5" font-size="14.2" font-weight="bold" fill="#111" textLength="29.3" lengthAdjust="spacingAndGlyphs" stroke="#111" stroke-width="0.6">9.3 km</text>
<text x="745.8" y="308.3" font-size="14.2" font-weight="bold" fill="#111" textLength="14" lengthAdjust="spacingAndGlyphs" stroke="#fff" stroke-width="3" paint-order="stroke" stroke-linejoin="round">S.3</text>
<text x="745.8" y="308.3" font-size="14.2" font-weight="bold" fill="#111" textLength="14" lengthAdjust="spacingAndGlyphs" stroke="#111" stroke-width="0.6">S.3</text>
<text x="738.8" y="323.2" font-size="14.2" font-weight="bold" fill="#111" textLength="28.8" lengthAdjust="spacingAndGlyphs" stroke="#fff" stroke-width="3" paint-order="stroke" stroke-linejoin="round">9.3 km</text>
<text x="738.8" y="323.2" font-size="14.2" font-weight="bold" fill="#111" textLength="28.8" lengthAdjust="spacingAndGlyphs" stroke="#111" stroke-width="0.6">9.3 km</text>
<text x="824.0" y="331.4" font-size="14.2" font-weight="bold" fill="#111" textLength="13.4" lengthAdjust="spacingAndGlyphs" stroke="#fff" stroke-width="3" paint-order="stroke" stroke-linejoin="round">S.4</text>
<text x="824.0" y="331.4" font-size="14.2" font-weight="bold" fill="#111" textLength="13.4" lengthAdjust="spacingAndGlyphs" stroke="#111" stroke-width="0.6">S.4</text>
<text x="807.4" y="346.5" font-size="14.2" font-weight="bold" fill="#111" textLength="30" lengthAdjust="spacingAndGlyphs" stroke="#fff" stroke-width="3" paint-order="stroke" stroke-linejoin="round">0.6 km</text>
<text x="807.4" y="346.5" font-size="14.2" font-weight="bold" fill="#111" textLength="30" lengthAdjust="spacingAndGlyphs" stroke="#111" stroke-width="0.6">0.6 km</text>
<text x="861.5" y="331.4" font-size="14.2" font-weight="bold" fill="#111" textLength="13.5" lengthAdjust="spacingAndGlyphs" stroke="#fff" stroke-width="3" paint-order="stroke" stroke-linejoin="round">S.5</text>
<text x="861.5" y="331.4" font-size="14.2" font-weight="bold" fill="#111" textLength="13.5" lengthAdjust="spacingAndGlyphs" stroke="#111" stroke-width="0.6">S.5</text>
<text x="861.5" y="346.5" font-size="14.2" font-weight="bold" fill="#111" textLength="29.3" lengthAdjust="spacingAndGlyphs" stroke="#fff" stroke-width="3" paint-order="stroke" stroke-linejoin="round">2.3 km</text>
<text x="861.5" y="346.5" font-size="14.2" font-weight="bold" fill="#111" textLength="29.3" lengthAdjust="spacingAndGlyphs" stroke="#111" stroke-width="0.6">2.3 km</text>
<g><circle cx="589.8" cy="355.6" r="5.3" fill="#fff" stroke="#000" stroke-width="1.1"/><line x1="588.1999999999999" x2="588.1999999999999" y1="351.0" y2="360.20000000000005" stroke="#000" stroke-width="1"/><line x1="591.4" x2="591.4" y1="351.0" y2="360.20000000000005" stroke="#000" stroke-width="1"/><line x1="586.5999999999999" x2="593.0" y1="352.8" y2="352.8" stroke="#000" stroke-width="0.9"/><line x1="586.5999999999999" x2="593.0" y1="355.3" y2="355.3" stroke="#000" stroke-width="0.9"/><line x1="586.5999999999999" x2="593.0" y1="357.8" y2="357.8" stroke="#000" stroke-width="0.9"/></g>
<g><circle cx="648.8" cy="355.6" r="5.3" fill="#fff" stroke="#000" stroke-width="1.1"/><line x1="647.1999999999999" x2="647.1999999999999" y1="351.0" y2="360.20000000000005" stroke="#000" stroke-width="1"/><line x1="650.4" x2="650.4" y1="351.0" y2="360.20000000000005" stroke="#000" stroke-width="1"/><line x1="645.5999999999999" x2="652.0" y1="352.8" y2="352.8" stroke="#000" stroke-width="0.9"/><line x1="645.5999999999999" x2="652.0" y1="355.3" y2="355.3" stroke="#000" stroke-width="0.9"/><line x1="645.5999999999999" x2="652.0" y1="357.8" y2="357.8" stroke="#000" stroke-width="0.9"/></g>
<g><circle cx="660.9" cy="355.6" r="5.3" fill="#fff" stroke="#000" stroke-width="1.1"/><line x1="659.3" x2="659.3" y1="351.0" y2="360.20000000000005" stroke="#000" stroke-width="1"/><line x1="662.5" x2="662.5" y1="351.0" y2="360.20000000000005" stroke="#000" stroke-width="1"/><line x1="657.6999999999999" x2="664.1" y1="352.8" y2="352.8" stroke="#000" stroke-width="0.9"/><line x1="657.6999999999999" x2="664.1" y1="355.3" y2="355.3" stroke="#000" stroke-width="0.9"/><line x1="657.6999999999999" x2="664.1" y1="357.8" y2="357.8" stroke="#000" stroke-width="0.9"/></g>
<circle cx="306.4" cy="340.9" r="11.4" fill="url(#kom)" stroke="#0d1f66" stroke-width="1.3"/><path d="M298.2,336.09999999999997 L314.59999999999997,336.09999999999997 L306.4,350.5 Z" fill="#fff"/><rect x="303.4" y="331.7" width="6" height="2.2" rx="1" fill="#b8c8f0"/><text transform="translate(306.4 346.29999999999995) scale(0.85 1)" font-size="12" font-weight="bold" fill="#000" stroke="#000" stroke-width="0.4" text-anchor="middle">3</text>
<circle cx="771.4" cy="340.9" r="11.4" fill="url(#kom)" stroke="#0d1f66" stroke-width="1.3"/><path d="M763.1999999999999,336.09999999999997 L779.6,336.09999999999997 L771.4,350.5 Z" fill="#fff"/><rect x="768.4" y="331.7" width="6" height="2.2" rx="1" fill="#b8c8f0"/><text transform="translate(771.4 346.29999999999995) scale(0.85 1)" font-size="12" font-weight="bold" fill="#000" stroke="#000" stroke-width="0.4" text-anchor="middle">4</text>
<text transform="translate(945.4 357.9) rotate(-90)" font-size="9.6" fill="#000" stroke="#000" stroke-width="0.35" textLength="30.9" lengthAdjust="spacingAndGlyphs">SDS</text>
<path d="M13.5,125.8 A4,4 0 0 1 17.5,121.8 H35.8 A4,4 0 0 1 39.8,125.8 V253.4 A13.149999999999999,13.149999999999999 0 0 1 13.5,253.4 Z" fill="url(#gpill)" stroke="#179b34" stroke-width="3"/>
<text transform="translate(32.7 238.4) rotate(-90)" font-size="17.8" font-weight="bold" fill="#000" stroke="#000" stroke-width="0.7" textLength="29.2" lengthAdjust="spacingAndGlyphs">463</text>
<text transform="translate(32.7 206.6) rotate(-90)" font-size="17.8" font-weight="bold" fill="#000" stroke="#000" stroke-width="0.7" textLength="7.2" lengthAdjust="spacingAndGlyphs">-</text>
<text transform="translate(32.7 191.6) rotate(-90)" font-size="17.8" font-weight="bold" fill="#000" stroke="#000" stroke-width="0.7" textLength="60.0" lengthAdjust="spacingAndGlyphs">GUBBIO</text>
<circle cx="27" cy="253.5" r="11.1" fill="url(#gcirc)" stroke="#111" stroke-width="1.6"/>
<g fill="none" stroke="#fff" stroke-width="1.6"><circle cx="20.9" cy="256.5" r="3.1"/><circle cx="32.5" cy="256.5" r="3.1"/></g>
<path d="M21.8,249.8 L23,247.6 L28.8,247.6 L29.8,250.6 L27.8,253.8 L24.5,254.6 L22.3,252.3 Z" fill="#fff"/>
<circle cx="31" cy="248.7" r="1.9" fill="#fff"/>
<path d="M20.9,256.5 L24.5,253 L28.5,253.5 L32.5,256.5 M28.6,250 L31.8,253.2 M26,253 L27.8,257" fill="none" stroke="#fff" stroke-width="1.4" stroke-linecap="round"/>
<path d="M940.5,147.4 A4,4 0 0 1 944.5,143.4 H962.8 A4,4 0 0 1 966.8,147.4 V270.15 A13.149999999999977,13.149999999999977 0 0 1 940.5,270.15 Z" fill="url(#rpill)" stroke="#e30613" stroke-width="3"/>
<text transform="translate(960.6 248.9) rotate(-90)" font-size="17.8" font-weight="bold" fill="#000" stroke="#000" stroke-width="0.7" textLength="30.9" lengthAdjust="spacingAndGlyphs">318</text>
<text transform="translate(960.6 214.5) rotate(-90)" font-size="17.8" font-weight="bold" fill="#000" stroke="#000" stroke-width="0.7" textLength="5.5" lengthAdjust="spacingAndGlyphs">-</text>
<text transform="translate(960.6 202.7) rotate(-90)" font-size="17.8" font-weight="bold" fill="#000" stroke="#000" stroke-width="0.7" textLength="47.9" lengthAdjust="spacingAndGlyphs">SIENA</text>
<circle cx="953.7" cy="270" r="10.9" fill="url(#rcirc)" stroke="#111" stroke-width="1.6"/>
<g fill="none" stroke="#fff" stroke-width="1.9"><circle cx="948" cy="273.3" r="2.7"/><circle cx="959.2" cy="273.3" r="2.7"/></g>
<path d="M948,273.3 L953.4,272 L959.2,273.3 M950.6,267 L949.3,260.6 M953.2,266.5 L955.6,260.6" fill="none" stroke="#fff" stroke-width="1.8" stroke-linecap="round"/>
<circle cx="952.2" cy="263.2" r="1.8" fill="#fff"/><ellipse cx="952.4" cy="268" rx="2.3" ry="3.2" fill="#fff" transform="rotate(-15 952.4 268)"/>
<path d="M952.5,270 L955,273.5" stroke="#fff" stroke-width="1.6"/>
</svg></body></html>
